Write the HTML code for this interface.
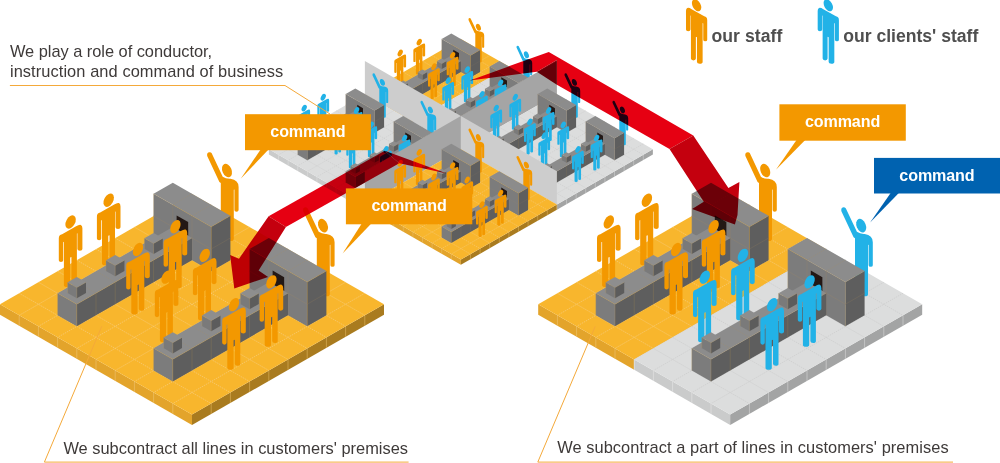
<!DOCTYPE html>
<html><head><meta charset="utf-8"><style>
html,body{margin:0;padding:0;background:#fff;}
body{width:1000px;height:463px;overflow:hidden;position:relative;}
svg{position:absolute;left:0;top:0;}
.cmd{font-family:"Liberation Sans",sans-serif;font-weight:bold;font-size:16.1px;fill:#fff;text-anchor:middle;}
.tx{font-family:"Liberation Sans",sans-serif;font-size:16.4px;fill:#3E3A39;}
.lg{font-family:"Liberation Sans",sans-serif;font-size:17.6px;font-weight:bold;fill:#4F4F4F;}
.t{position:absolute;font-family:"Liberation Sans",sans-serif;color:#3E3A39;white-space:nowrap;}
</style></head><body>
<svg width="1000" height="463" viewBox="0 0 1000 463">
<polygon points="268.9,149.3 364.9,204.45 364.9,209.66 268.9,154.51" fill="#CACBCB"/>
<polygon points="364.9,204.45 460.9,259.6 460.9,264.81 364.9,209.66" fill="#E3A42B"/>
<polygon points="652.9,149.3 556.9,204.45 556.9,209.66 652.9,154.51" fill="#A3A4A4"/>
<polygon points="556.9,204.45 460.9,259.6 460.9,264.81 556.9,209.66" fill="#A97B1F"/>
<line x1="278.5" y1="154.81" x2="278.5" y2="160.02" stroke="#E6E6E6" stroke-width="0.45"/>
<line x1="643.3" y1="154.81" x2="643.3" y2="160.02" stroke="#E6E6E6" stroke-width="0.4"/>
<line x1="288.1" y1="160.33" x2="288.1" y2="165.54" stroke="#E6E6E6" stroke-width="0.45"/>
<line x1="633.7" y1="160.33" x2="633.7" y2="165.54" stroke="#E6E6E6" stroke-width="0.4"/>
<line x1="297.7" y1="165.84" x2="297.7" y2="171.05" stroke="#E6E6E6" stroke-width="0.45"/>
<line x1="624.1" y1="165.84" x2="624.1" y2="171.05" stroke="#E6E6E6" stroke-width="0.4"/>
<line x1="307.3" y1="171.36" x2="307.3" y2="176.57" stroke="#E6E6E6" stroke-width="0.45"/>
<line x1="614.5" y1="171.36" x2="614.5" y2="176.57" stroke="#E6E6E6" stroke-width="0.4"/>
<line x1="316.9" y1="176.88" x2="316.9" y2="182.08" stroke="#E6E6E6" stroke-width="0.45"/>
<line x1="604.9" y1="176.88" x2="604.9" y2="182.08" stroke="#E6E6E6" stroke-width="0.4"/>
<line x1="326.5" y1="182.39" x2="326.5" y2="187.6" stroke="#E6E6E6" stroke-width="0.45"/>
<line x1="595.3" y1="182.39" x2="595.3" y2="187.6" stroke="#E6E6E6" stroke-width="0.4"/>
<line x1="336.1" y1="187.91" x2="336.1" y2="193.11" stroke="#E6E6E6" stroke-width="0.45"/>
<line x1="585.7" y1="187.91" x2="585.7" y2="193.11" stroke="#E6E6E6" stroke-width="0.4"/>
<line x1="345.7" y1="193.42" x2="345.7" y2="198.63" stroke="#E6E6E6" stroke-width="0.45"/>
<line x1="576.1" y1="193.42" x2="576.1" y2="198.63" stroke="#E6E6E6" stroke-width="0.4"/>
<line x1="355.3" y1="198.94" x2="355.3" y2="204.14" stroke="#E6E6E6" stroke-width="0.45"/>
<line x1="566.5" y1="198.94" x2="566.5" y2="204.14" stroke="#E6E6E6" stroke-width="0.4"/>
<line x1="364.9" y1="204.45" x2="364.9" y2="209.66" stroke="#EFC572" stroke-width="0.45"/>
<line x1="556.9" y1="204.45" x2="556.9" y2="209.66" stroke="#EFC572" stroke-width="0.4"/>
<line x1="374.5" y1="209.97" x2="374.5" y2="215.17" stroke="#EFC572" stroke-width="0.45"/>
<line x1="547.3" y1="209.97" x2="547.3" y2="215.17" stroke="#EFC572" stroke-width="0.4"/>
<line x1="384.1" y1="215.48" x2="384.1" y2="220.69" stroke="#EFC572" stroke-width="0.45"/>
<line x1="537.7" y1="215.48" x2="537.7" y2="220.69" stroke="#EFC572" stroke-width="0.4"/>
<line x1="393.7" y1="220.99" x2="393.7" y2="226.2" stroke="#EFC572" stroke-width="0.45"/>
<line x1="528.1" y1="220.99" x2="528.1" y2="226.2" stroke="#EFC572" stroke-width="0.4"/>
<line x1="403.3" y1="226.51" x2="403.3" y2="231.72" stroke="#EFC572" stroke-width="0.45"/>
<line x1="518.5" y1="226.51" x2="518.5" y2="231.72" stroke="#EFC572" stroke-width="0.4"/>
<line x1="412.9" y1="232.02" x2="412.9" y2="237.23" stroke="#EFC572" stroke-width="0.45"/>
<line x1="508.9" y1="232.02" x2="508.9" y2="237.23" stroke="#EFC572" stroke-width="0.4"/>
<line x1="422.5" y1="237.54" x2="422.5" y2="242.75" stroke="#EFC572" stroke-width="0.45"/>
<line x1="499.3" y1="237.54" x2="499.3" y2="242.75" stroke="#EFC572" stroke-width="0.4"/>
<line x1="432.1" y1="243.05" x2="432.1" y2="248.26" stroke="#EFC572" stroke-width="0.45"/>
<line x1="489.7" y1="243.05" x2="489.7" y2="248.26" stroke="#EFC572" stroke-width="0.4"/>
<line x1="441.7" y1="248.57" x2="441.7" y2="253.78" stroke="#EFC572" stroke-width="0.45"/>
<line x1="480.1" y1="248.57" x2="480.1" y2="253.78" stroke="#EFC572" stroke-width="0.4"/>
<line x1="451.3" y1="254.08" x2="451.3" y2="259.29" stroke="#EFC572" stroke-width="0.45"/>
<line x1="470.5" y1="254.08" x2="470.5" y2="259.29" stroke="#EFC572" stroke-width="0.4"/>
<polygon points="364.9,94.15 412.9,121.72 412.9,121.72 364.9,94.15" fill="#E3A42B"/>
<polygon points="412.9,121.72 460.9,149.3 460.9,149.3 412.9,121.72" fill="#CACBCB"/>
<polygon points="556.9,94.15 460.9,149.3 460.9,149.3 556.9,94.15" fill="#A3A4A4"/>
<polygon points="460.9,39 508.9,66.58 412.9,121.72 364.9,94.15" fill="#F8B62D"/>
<polygon points="508.9,66.58 556.9,94.15 460.9,149.3 412.9,121.72" fill="#DCDDDD"/>
<line x1="470.5" y1="44.52" x2="374.5" y2="99.66" stroke="#F6D08C" stroke-width="0.45" stroke-dasharray="1.4 0.9"/>
<line x1="451.3" y1="44.52" x2="499.3" y2="72.09" stroke="#F6D08C" stroke-width="0.45" stroke-dasharray="1.4 0.9"/>
<line x1="499.3" y1="72.09" x2="547.3" y2="99.66" stroke="#C7C8C8" stroke-width="0.45" stroke-dasharray="1.4 0.9"/>
<line x1="480.1" y1="50.03" x2="384.1" y2="105.18" stroke="#F6D08C" stroke-width="0.45" stroke-dasharray="1.4 0.9"/>
<line x1="441.7" y1="50.03" x2="489.7" y2="77.6" stroke="#F6D08C" stroke-width="0.45" stroke-dasharray="1.4 0.9"/>
<line x1="489.7" y1="77.6" x2="537.7" y2="105.18" stroke="#C7C8C8" stroke-width="0.45" stroke-dasharray="1.4 0.9"/>
<line x1="489.7" y1="55.55" x2="393.7" y2="110.69" stroke="#F6D08C" stroke-width="0.45" stroke-dasharray="1.4 0.9"/>
<line x1="432.1" y1="55.55" x2="480.1" y2="83.12" stroke="#F6D08C" stroke-width="0.45" stroke-dasharray="1.4 0.9"/>
<line x1="480.1" y1="83.12" x2="528.1" y2="110.69" stroke="#C7C8C8" stroke-width="0.45" stroke-dasharray="1.4 0.9"/>
<line x1="499.3" y1="61.06" x2="403.3" y2="116.21" stroke="#F6D08C" stroke-width="0.45" stroke-dasharray="1.4 0.9"/>
<line x1="422.5" y1="61.06" x2="470.5" y2="88.63" stroke="#F6D08C" stroke-width="0.45" stroke-dasharray="1.4 0.9"/>
<line x1="470.5" y1="88.63" x2="518.5" y2="116.21" stroke="#C7C8C8" stroke-width="0.45" stroke-dasharray="1.4 0.9"/>
<line x1="508.9" y1="66.58" x2="412.9" y2="121.72" stroke="#C7C8C8" stroke-width="0.45" stroke-dasharray="1.4 0.9"/>
<line x1="412.9" y1="66.58" x2="460.9" y2="94.15" stroke="#F6D08C" stroke-width="0.45" stroke-dasharray="1.4 0.9"/>
<line x1="460.9" y1="94.15" x2="508.9" y2="121.72" stroke="#C7C8C8" stroke-width="0.45" stroke-dasharray="1.4 0.9"/>
<line x1="518.5" y1="72.09" x2="422.5" y2="127.24" stroke="#C7C8C8" stroke-width="0.45" stroke-dasharray="1.4 0.9"/>
<line x1="403.3" y1="72.09" x2="451.3" y2="99.66" stroke="#F6D08C" stroke-width="0.45" stroke-dasharray="1.4 0.9"/>
<line x1="451.3" y1="99.66" x2="499.3" y2="127.24" stroke="#C7C8C8" stroke-width="0.45" stroke-dasharray="1.4 0.9"/>
<line x1="528.1" y1="77.6" x2="432.1" y2="132.75" stroke="#C7C8C8" stroke-width="0.45" stroke-dasharray="1.4 0.9"/>
<line x1="393.7" y1="77.6" x2="441.7" y2="105.18" stroke="#F6D08C" stroke-width="0.45" stroke-dasharray="1.4 0.9"/>
<line x1="441.7" y1="105.18" x2="489.7" y2="132.75" stroke="#C7C8C8" stroke-width="0.45" stroke-dasharray="1.4 0.9"/>
<line x1="537.7" y1="83.12" x2="441.7" y2="138.27" stroke="#C7C8C8" stroke-width="0.45" stroke-dasharray="1.4 0.9"/>
<line x1="384.1" y1="83.12" x2="432.1" y2="110.69" stroke="#F6D08C" stroke-width="0.45" stroke-dasharray="1.4 0.9"/>
<line x1="432.1" y1="110.69" x2="480.1" y2="138.27" stroke="#C7C8C8" stroke-width="0.45" stroke-dasharray="1.4 0.9"/>
<line x1="547.3" y1="88.63" x2="451.3" y2="143.78" stroke="#C7C8C8" stroke-width="0.45" stroke-dasharray="1.4 0.9"/>
<line x1="374.5" y1="88.63" x2="422.5" y2="116.21" stroke="#F6D08C" stroke-width="0.45" stroke-dasharray="1.4 0.9"/>
<line x1="422.5" y1="116.21" x2="470.5" y2="143.78" stroke="#C7C8C8" stroke-width="0.45" stroke-dasharray="1.4 0.9"/>
<line x1="374.5" y1="99.66" x2="374.5" y2="99.66" stroke="#EFC572" stroke-width="0.45"/>
<line x1="547.3" y1="99.66" x2="547.3" y2="99.66" stroke="#E6E6E6" stroke-width="0.36000000000000004"/>
<line x1="384.1" y1="105.18" x2="384.1" y2="105.18" stroke="#EFC572" stroke-width="0.45"/>
<line x1="537.7" y1="105.18" x2="537.7" y2="105.18" stroke="#E6E6E6" stroke-width="0.36000000000000004"/>
<line x1="393.7" y1="110.69" x2="393.7" y2="110.69" stroke="#EFC572" stroke-width="0.45"/>
<line x1="528.1" y1="110.69" x2="528.1" y2="110.69" stroke="#E6E6E6" stroke-width="0.36000000000000004"/>
<line x1="403.3" y1="116.21" x2="403.3" y2="116.21" stroke="#EFC572" stroke-width="0.45"/>
<line x1="518.5" y1="116.21" x2="518.5" y2="116.21" stroke="#E6E6E6" stroke-width="0.36000000000000004"/>
<line x1="412.9" y1="121.72" x2="412.9" y2="121.72" stroke="#E6E6E6" stroke-width="0.45"/>
<line x1="508.9" y1="121.72" x2="508.9" y2="121.72" stroke="#E6E6E6" stroke-width="0.36000000000000004"/>
<line x1="422.5" y1="127.24" x2="422.5" y2="127.24" stroke="#E6E6E6" stroke-width="0.45"/>
<line x1="499.3" y1="127.24" x2="499.3" y2="127.24" stroke="#E6E6E6" stroke-width="0.36000000000000004"/>
<line x1="432.1" y1="132.75" x2="432.1" y2="132.75" stroke="#E6E6E6" stroke-width="0.45"/>
<line x1="489.7" y1="132.75" x2="489.7" y2="132.75" stroke="#E6E6E6" stroke-width="0.36000000000000004"/>
<line x1="441.7" y1="138.27" x2="441.7" y2="138.27" stroke="#E6E6E6" stroke-width="0.45"/>
<line x1="480.1" y1="138.27" x2="480.1" y2="138.27" stroke="#E6E6E6" stroke-width="0.36000000000000004"/>
<line x1="451.3" y1="143.78" x2="451.3" y2="143.78" stroke="#E6E6E6" stroke-width="0.45"/>
<line x1="470.5" y1="143.78" x2="470.5" y2="143.78" stroke="#E6E6E6" stroke-width="0.36000000000000004"/>
<g transform="translate(478.4 27.25) scale(0.5 0.5)" fill="#F39800"><ellipse rx="4.6" ry="7.1" transform="rotate(-22)"/><path d="M-19.8-14.5Q-20.5-18.5-17.2-18.3Q-15.8-18.1-15.3-17.2L-4.3 6.2Q-1 8.6 3.5 8.3Q11.6 9.5 11.6 16.5L11.6 39.5Q11.6 41.2 9.5 41.2Q7.4 41.2 7.4 39.5L7.4 19L6.8 19.3L6.8 68.5Q6.8 70.5 3.8 70.5Q0.8 70.5 0.8 68.5L0.8 44.5L-0.4 45L-0.4 72.5Q-0.4 74.5-3.3 74.5Q-6.2 74.5-6.2 72.5L-6.2 12.5L-7.6 11.6Z"/></g>
<g transform="translate(526.4 54.83) scale(0.5 0.5)" fill="#22B2E7"><ellipse rx="4.6" ry="7.1" transform="rotate(-22)"/><path d="M-19.8-14.5Q-20.5-18.5-17.2-18.3Q-15.8-18.1-15.3-17.2L-4.3 6.2Q-1 8.6 3.5 8.3Q11.6 9.5 11.6 16.5L11.6 39.5Q11.6 41.2 9.5 41.2Q7.4 41.2 7.4 39.5L7.4 19L6.8 19.3L6.8 68.5Q6.8 70.5 3.8 70.5Q0.8 70.5 0.8 68.5L0.8 44.5L-0.4 45L-0.4 72.5Q-0.4 74.5-3.3 74.5Q-6.2 74.5-6.2 72.5L-6.2 12.5L-7.6 11.6Z"/></g>
<polygon points="441.7,38.89 470.5,55.43 470.5,77.6 441.7,61.06" fill="#7C7C7C"/>
<polygon points="480.1,49.92 470.5,55.43 470.5,77.6 480.1,72.09" fill="#5E5E5E"/>
<polygon points="451.3,33.38 480.1,49.92 470.5,55.43 441.7,38.89" fill="#8C8C8C"/>
<polyline points="441.7,61.06 441.7,38.89 470.5,55.43 480.1,49.92" fill="none" stroke="#B89A64" stroke-width="0.2" stroke-opacity="0.8"/>
<line x1="470.5" y1="55.43" x2="470.5" y2="77.6" stroke="#B89A64" stroke-width="0.2" stroke-opacity="0.8"/>
<line x1="460.9" y1="38.89" x2="451.3" y2="44.41" stroke="#9A8C74" stroke-width="0.25" stroke-dasharray="1.4 0.9"/>
<line x1="470.5" y1="44.41" x2="460.9" y2="49.92" stroke="#9A8C74" stroke-width="0.25" stroke-dasharray="1.4 0.9"/>
<line x1="451.3" y1="44.41" x2="451.3" y2="66.58" stroke="#8E8270" stroke-width="0.25"/>
<line x1="460.9" y1="49.92" x2="460.9" y2="72.09" stroke="#8E8270" stroke-width="0.25"/>
<line x1="441.7" y1="49.98" x2="470.5" y2="66.52" stroke="#8E8270" stroke-width="0.25"/>
<line x1="480.1" y1="61.01" x2="470.5" y2="66.52" stroke="#7A6E5C" stroke-width="0.25"/>
<polygon points="453.22,49.72 458.98,53.03 458.98,59.9 453.22,56.59" fill="#231815"/>
<polygon points="489.7,66.46 518.5,83.01 518.5,105.18 489.7,88.63" fill="#7C7C7C"/>
<polygon points="528.1,77.49 518.5,83.01 518.5,105.18 528.1,99.66" fill="#5E5E5E"/>
<polygon points="499.3,60.95 528.1,77.49 518.5,83.01 489.7,66.46" fill="#8C8C8C"/>
<polyline points="489.7,88.63 489.7,66.46 518.5,83.01 528.1,77.49" fill="none" stroke="#B89A64" stroke-width="0.2" stroke-opacity="0.8"/>
<line x1="518.5" y1="83.01" x2="518.5" y2="105.18" stroke="#B89A64" stroke-width="0.2" stroke-opacity="0.8"/>
<line x1="508.9" y1="66.46" x2="499.3" y2="71.98" stroke="#9A8C74" stroke-width="0.25" stroke-dasharray="1.4 0.9"/>
<line x1="518.5" y1="71.98" x2="508.9" y2="77.49" stroke="#9A8C74" stroke-width="0.25" stroke-dasharray="1.4 0.9"/>
<line x1="499.3" y1="71.98" x2="499.3" y2="94.15" stroke="#8E8270" stroke-width="0.25"/>
<line x1="508.9" y1="77.49" x2="508.9" y2="99.66" stroke="#8E8270" stroke-width="0.25"/>
<line x1="489.7" y1="77.55" x2="518.5" y2="94.09" stroke="#8E8270" stroke-width="0.25"/>
<line x1="528.1" y1="88.58" x2="518.5" y2="94.09" stroke="#7A6E5C" stroke-width="0.25"/>
<polygon points="501.22,77.3 506.98,80.6 506.98,87.48 501.22,84.17" fill="#231815"/>
<g transform="translate(419.25 42.1) scale(0.5 0.5)" fill="#F39800"><ellipse rx="4.5" ry="7.2" transform="rotate(28)"/><path d="M-11.8 16.5Q-11.8 12.8-8.5 12.3L5.5 4.3Q8.5 2.3 10.3 2.9Q11.8 3.6 11.8 6.3L11.8 27Q11.8 28.8 9.3 28.8Q6.8 28.8 6.8 27L6.8 11.3L6.3 11.6L6.3 59.2Q6.3 61.2 3.5 61.2Q0.8 61.2 0.8 59.2L0.8 35L-0.4 35.6L-0.4 63Q-0.4 65-3.5 65Q-6.7 65-6.7 63L-6.7 19.8L-7.4 20.2L-7.4 38.2Q-7.4 40-9.6 40Q-11.8 40-11.8 38.2Z"/></g>
<g transform="translate(400.2 53) scale(0.5 0.5)" fill="#F39800"><ellipse rx="4.5" ry="7.2" transform="rotate(28)"/><path d="M-11.8 16.5Q-11.8 12.8-8.5 12.3L5.5 4.3Q8.5 2.3 10.3 2.9Q11.8 3.6 11.8 6.3L11.8 27Q11.8 28.8 9.3 28.8Q6.8 28.8 6.8 27L6.8 11.3L6.3 11.6L6.3 59.2Q6.3 61.2 3.5 61.2Q0.8 61.2 0.8 59.2L0.8 35L-0.4 35.6L-0.4 63Q-0.4 65-3.5 65Q-6.7 65-6.7 63L-6.7 19.8L-7.4 20.2L-7.4 38.2Q-7.4 40-9.6 40Q-11.8 40-11.8 38.2Z"/></g>
<polygon points="393.7,88.58 403.3,94.09 403.3,105.18 393.7,99.66" fill="#7C7C7C"/>
<polygon points="460.9,61.01 403.3,94.09 403.3,105.18 460.9,72.09" fill="#5E5E5E"/>
<polygon points="451.3,55.49 460.9,61.01 403.3,94.09 393.7,88.58" fill="#8C8C8C"/>
<polyline points="393.7,99.66 393.7,88.58 403.3,94.09 460.9,61.01" fill="none" stroke="#B89A64" stroke-width="0.2" stroke-opacity="0.8"/>
<line x1="403.3" y1="94.09" x2="403.3" y2="105.18" stroke="#B89A64" stroke-width="0.2" stroke-opacity="0.8"/>
<line x1="451.3" y1="66.52" x2="451.3" y2="77.6" stroke="#857657" stroke-width="0.25"/>
<line x1="441.7" y1="61.01" x2="451.3" y2="66.52" stroke="#9A8C74" stroke-width="0.25" stroke-dasharray="1.4 0.9"/>
<line x1="441.7" y1="72.03" x2="441.7" y2="83.12" stroke="#857657" stroke-width="0.25"/>
<line x1="432.1" y1="66.52" x2="441.7" y2="72.03" stroke="#9A8C74" stroke-width="0.25" stroke-dasharray="1.4 0.9"/>
<line x1="432.1" y1="77.55" x2="432.1" y2="88.63" stroke="#857657" stroke-width="0.25"/>
<line x1="422.5" y1="72.03" x2="432.1" y2="77.55" stroke="#9A8C74" stroke-width="0.25" stroke-dasharray="1.4 0.9"/>
<line x1="422.5" y1="83.06" x2="422.5" y2="94.15" stroke="#857657" stroke-width="0.25"/>
<line x1="412.9" y1="77.55" x2="422.5" y2="83.06" stroke="#9A8C74" stroke-width="0.25" stroke-dasharray="1.4 0.9"/>
<line x1="412.9" y1="88.58" x2="412.9" y2="99.66" stroke="#857657" stroke-width="0.25"/>
<line x1="403.3" y1="83.06" x2="412.9" y2="88.58" stroke="#9A8C74" stroke-width="0.25" stroke-dasharray="1.4 0.9"/>
<polygon points="398.69,83.15 403.3,85.8 403.3,91.12 398.69,88.47" fill="#7A7A7A"/>
<polygon points="407.91,83.15 403.3,85.8 403.3,91.12 407.91,88.47" fill="#5C5C5C"/>
<polygon points="403.3,80.5 407.91,83.15 403.3,85.8 398.69,83.15" fill="#8E8E8E"/>
<polyline points="398.69,88.47 398.69,83.15 403.3,85.8 407.91,83.15" fill="none" stroke="#B89A64" stroke-width="0.2" stroke-opacity="0.8"/>
<line x1="403.3" y1="85.8" x2="403.3" y2="91.12" stroke="#B89A64" stroke-width="0.2" stroke-opacity="0.8"/>
<polygon points="417.89,72.12 422.5,74.77 422.5,80.09 417.89,77.44" fill="#7A7A7A"/>
<polygon points="427.11,72.12 422.5,74.77 422.5,80.09 427.11,77.44" fill="#5C5C5C"/>
<polygon points="422.5,69.47 427.11,72.12 422.5,74.77 417.89,72.12" fill="#8E8E8E"/>
<polyline points="417.89,77.44 417.89,72.12 422.5,74.77 427.11,72.12" fill="none" stroke="#B89A64" stroke-width="0.2" stroke-opacity="0.8"/>
<line x1="422.5" y1="74.77" x2="422.5" y2="80.09" stroke="#B89A64" stroke-width="0.2" stroke-opacity="0.8"/>
<polygon points="437.09,61.09 441.7,63.74 441.7,69.06 437.09,66.41" fill="#7A7A7A"/>
<polygon points="446.31,61.09 441.7,63.74 441.7,69.06 446.31,66.41" fill="#5C5C5C"/>
<polygon points="441.7,58.44 446.31,61.09 441.7,63.74 437.09,61.09" fill="#8E8E8E"/>
<polyline points="437.09,66.41 437.09,61.09 441.7,63.74 446.31,61.09" fill="none" stroke="#B89A64" stroke-width="0.2" stroke-opacity="0.8"/>
<line x1="441.7" y1="63.74" x2="441.7" y2="69.06" stroke="#B89A64" stroke-width="0.2" stroke-opacity="0.8"/>
<g transform="translate(452.6 55.35) scale(0.5 0.5)" fill="#F39800"><ellipse rx="4.5" ry="7.2" transform="rotate(28)"/><path d="M-11.8 16.5Q-11.8 12.8-8.5 12.3L5.5 4.3Q8.5 2.3 10.3 2.9Q11.8 3.6 11.8 6.3L11.8 27Q11.8 28.8 9.3 28.8Q6.8 28.8 6.8 27L6.8 11.3L6.3 11.6L6.3 59.2Q6.3 61.2 3.5 61.2Q0.8 61.2 0.8 59.2L0.8 35L-0.4 35.6L-0.4 63Q-0.4 65-3.5 65Q-6.7 65-6.7 63L-6.7 19.8L-7.4 20.2L-7.4 38.2Q-7.4 40-9.6 40Q-11.8 40-11.8 38.2Z"/></g>
<g transform="translate(433.9 66.75) scale(0.5 0.5)" fill="#F39800"><ellipse rx="4.5" ry="7.2" transform="rotate(28)"/><path d="M-11.8 16.5Q-11.8 12.8-8.5 12.3L5.5 4.3Q8.5 2.3 10.3 2.9Q11.8 3.6 11.8 6.3L11.8 27Q11.8 28.8 9.3 28.8Q6.8 28.8 6.8 27L6.8 11.3L6.3 11.6L6.3 59.2Q6.3 61.2 3.5 61.2Q0.8 61.2 0.8 59.2L0.8 35L-0.4 35.6L-0.4 63Q-0.4 65-3.5 65Q-6.7 65-6.7 63L-6.7 19.8L-7.4 20.2L-7.4 38.2Q-7.4 40-9.6 40Q-11.8 40-11.8 38.2Z"/></g>
<g transform="translate(467.25 69.67) scale(0.5 0.5)" fill="#22B2E7"><ellipse rx="4.5" ry="7.2" transform="rotate(28)"/><path d="M-11.8 16.5Q-11.8 12.8-8.5 12.3L5.5 4.3Q8.5 2.3 10.3 2.9Q11.8 3.6 11.8 6.3L11.8 27Q11.8 28.8 9.3 28.8Q6.8 28.8 6.8 27L6.8 11.3L6.3 11.6L6.3 59.2Q6.3 61.2 3.5 61.2Q0.8 61.2 0.8 59.2L0.8 35L-0.4 35.6L-0.4 63Q-0.4 65-3.5 65Q-6.7 65-6.7 63L-6.7 19.8L-7.4 20.2L-7.4 38.2Q-7.4 40-9.6 40Q-11.8 40-11.8 38.2Z"/></g>
<g transform="translate(448.2 80.58) scale(0.5 0.5)" fill="#22B2E7"><ellipse rx="4.5" ry="7.2" transform="rotate(28)"/><path d="M-11.8 16.5Q-11.8 12.8-8.5 12.3L5.5 4.3Q8.5 2.3 10.3 2.9Q11.8 3.6 11.8 6.3L11.8 27Q11.8 28.8 9.3 28.8Q6.8 28.8 6.8 27L6.8 11.3L6.3 11.6L6.3 59.2Q6.3 61.2 3.5 61.2Q0.8 61.2 0.8 59.2L0.8 35L-0.4 35.6L-0.4 63Q-0.4 65-3.5 65Q-6.7 65-6.7 63L-6.7 19.8L-7.4 20.2L-7.4 38.2Q-7.4 40-9.6 40Q-11.8 40-11.8 38.2Z"/></g>
<polygon points="441.7,116.16 451.3,121.67 451.3,132.75 441.7,127.24" fill="#7C7C7C"/>
<polygon points="508.9,88.58 451.3,121.67 451.3,132.75 508.9,99.66" fill="#5E5E5E"/>
<polygon points="499.3,83.06 508.9,88.58 451.3,121.67 441.7,116.16" fill="#8C8C8C"/>
<polyline points="441.7,127.24 441.7,116.16 451.3,121.67 508.9,88.58" fill="none" stroke="#B89A64" stroke-width="0.2" stroke-opacity="0.8"/>
<line x1="451.3" y1="121.67" x2="451.3" y2="132.75" stroke="#B89A64" stroke-width="0.2" stroke-opacity="0.8"/>
<line x1="499.3" y1="94.09" x2="499.3" y2="105.18" stroke="#857657" stroke-width="0.25"/>
<line x1="489.7" y1="88.58" x2="499.3" y2="94.09" stroke="#9A8C74" stroke-width="0.25" stroke-dasharray="1.4 0.9"/>
<line x1="489.7" y1="99.61" x2="489.7" y2="110.69" stroke="#857657" stroke-width="0.25"/>
<line x1="480.1" y1="94.09" x2="489.7" y2="99.61" stroke="#9A8C74" stroke-width="0.25" stroke-dasharray="1.4 0.9"/>
<line x1="480.1" y1="105.12" x2="480.1" y2="116.21" stroke="#857657" stroke-width="0.25"/>
<line x1="470.5" y1="99.61" x2="480.1" y2="105.12" stroke="#9A8C74" stroke-width="0.25" stroke-dasharray="1.4 0.9"/>
<line x1="470.5" y1="110.64" x2="470.5" y2="121.72" stroke="#857657" stroke-width="0.25"/>
<line x1="460.9" y1="105.12" x2="470.5" y2="110.64" stroke="#9A8C74" stroke-width="0.25" stroke-dasharray="1.4 0.9"/>
<line x1="460.9" y1="116.16" x2="460.9" y2="127.24" stroke="#857657" stroke-width="0.25"/>
<line x1="451.3" y1="110.64" x2="460.9" y2="116.16" stroke="#9A8C74" stroke-width="0.25" stroke-dasharray="1.4 0.9"/>
<polygon points="446.69,110.72 451.3,113.37 451.3,118.69 446.69,116.04" fill="#7A7A7A"/>
<polygon points="455.91,110.72 451.3,113.37 451.3,118.69 455.91,116.04" fill="#5C5C5C"/>
<polygon points="451.3,108.08 455.91,110.72 451.3,113.37 446.69,110.72" fill="#8E8E8E"/>
<polyline points="446.69,116.04 446.69,110.72 451.3,113.37 455.91,110.72" fill="none" stroke="#B89A64" stroke-width="0.2" stroke-opacity="0.8"/>
<line x1="451.3" y1="113.37" x2="451.3" y2="118.69" stroke="#B89A64" stroke-width="0.2" stroke-opacity="0.8"/>
<polygon points="465.89,99.69 470.5,102.34 470.5,107.66 465.89,105.01" fill="#7A7A7A"/>
<polygon points="475.11,99.69 470.5,102.34 470.5,107.66 475.11,105.01" fill="#5C5C5C"/>
<polygon points="470.5,97.05 475.11,99.69 470.5,102.34 465.89,99.69" fill="#8E8E8E"/>
<polyline points="465.89,105.01 465.89,99.69 470.5,102.34 475.11,99.69" fill="none" stroke="#B89A64" stroke-width="0.2" stroke-opacity="0.8"/>
<line x1="470.5" y1="102.34" x2="470.5" y2="107.66" stroke="#B89A64" stroke-width="0.2" stroke-opacity="0.8"/>
<polygon points="485.09,88.66 489.7,91.31 489.7,96.63 485.09,93.98" fill="#7A7A7A"/>
<polygon points="494.31,88.66 489.7,91.31 489.7,96.63 494.31,93.98" fill="#5C5C5C"/>
<polygon points="489.7,86.02 494.31,88.66 489.7,91.31 485.09,88.66" fill="#8E8E8E"/>
<polyline points="485.09,93.98 485.09,88.66 489.7,91.31 494.31,88.66" fill="none" stroke="#B89A64" stroke-width="0.2" stroke-opacity="0.8"/>
<line x1="489.7" y1="91.31" x2="489.7" y2="96.63" stroke="#B89A64" stroke-width="0.2" stroke-opacity="0.8"/>
<g transform="translate(500.6 82.92) scale(0.5 0.5)" fill="#22B2E7"><ellipse rx="4.5" ry="7.2" transform="rotate(28)"/><path d="M-11.8 16.5Q-11.8 12.8-8.5 12.3L5.5 4.3Q8.5 2.3 10.3 2.9Q11.8 3.6 11.8 6.3L11.8 27Q11.8 28.8 9.3 28.8Q6.8 28.8 6.8 27L6.8 11.3L6.3 11.6L6.3 59.2Q6.3 61.2 3.5 61.2Q0.8 61.2 0.8 59.2L0.8 35L-0.4 35.6L-0.4 63Q-0.4 65-3.5 65Q-6.7 65-6.7 63L-6.7 19.8L-7.4 20.2L-7.4 38.2Q-7.4 40-9.6 40Q-11.8 40-11.8 38.2Z"/></g>
<g transform="translate(481.9 94.33) scale(0.5 0.5)" fill="#22B2E7"><ellipse rx="4.5" ry="7.2" transform="rotate(28)"/><path d="M-11.8 16.5Q-11.8 12.8-8.5 12.3L5.5 4.3Q8.5 2.3 10.3 2.9Q11.8 3.6 11.8 6.3L11.8 27Q11.8 28.8 9.3 28.8Q6.8 28.8 6.8 27L6.8 11.3L6.3 11.6L6.3 59.2Q6.3 61.2 3.5 61.2Q0.8 61.2 0.8 59.2L0.8 35L-0.4 35.6L-0.4 63Q-0.4 65-3.5 65Q-6.7 65-6.7 63L-6.7 19.8L-7.4 20.2L-7.4 38.2Q-7.4 40-9.6 40Q-11.8 40-11.8 38.2Z"/></g>
<polygon points="556.9,60.9 460.9,116.05 460.9,149.3 556.9,94.15" fill="#A5A5A5"/>
<polygon points="364.9,60.9 460.9,116.05 460.9,149.3 364.9,94.15" fill="#CDCDCD"/>
<polygon points="268.9,149.3 364.9,204.45 364.9,204.45 268.9,149.3" fill="#CACBCB"/>
<polygon points="460.9,149.3 364.9,204.45 364.9,204.45 460.9,149.3" fill="#A3A4A4"/>
<polygon points="364.9,94.15 460.9,149.3 364.9,204.45 268.9,149.3" fill="#DCDDDD"/>
<line x1="374.5" y1="99.67" x2="278.5" y2="154.81" stroke="#C7C8C8" stroke-width="0.45" stroke-dasharray="1.4 0.9"/>
<line x1="355.3" y1="99.67" x2="451.3" y2="154.81" stroke="#C7C8C8" stroke-width="0.45" stroke-dasharray="1.4 0.9"/>
<line x1="384.1" y1="105.18" x2="288.1" y2="160.33" stroke="#C7C8C8" stroke-width="0.45" stroke-dasharray="1.4 0.9"/>
<line x1="345.7" y1="105.18" x2="441.7" y2="160.33" stroke="#C7C8C8" stroke-width="0.45" stroke-dasharray="1.4 0.9"/>
<line x1="393.7" y1="110.7" x2="297.7" y2="165.84" stroke="#C7C8C8" stroke-width="0.45" stroke-dasharray="1.4 0.9"/>
<line x1="336.1" y1="110.7" x2="432.1" y2="165.84" stroke="#C7C8C8" stroke-width="0.45" stroke-dasharray="1.4 0.9"/>
<line x1="403.3" y1="116.21" x2="307.3" y2="171.36" stroke="#C7C8C8" stroke-width="0.45" stroke-dasharray="1.4 0.9"/>
<line x1="326.5" y1="116.21" x2="422.5" y2="171.36" stroke="#C7C8C8" stroke-width="0.45" stroke-dasharray="1.4 0.9"/>
<line x1="412.9" y1="121.73" x2="316.9" y2="176.88" stroke="#C7C8C8" stroke-width="0.45" stroke-dasharray="1.4 0.9"/>
<line x1="316.9" y1="121.73" x2="412.9" y2="176.88" stroke="#C7C8C8" stroke-width="0.45" stroke-dasharray="1.4 0.9"/>
<line x1="422.5" y1="127.24" x2="326.5" y2="182.39" stroke="#C7C8C8" stroke-width="0.45" stroke-dasharray="1.4 0.9"/>
<line x1="307.3" y1="127.24" x2="403.3" y2="182.39" stroke="#C7C8C8" stroke-width="0.45" stroke-dasharray="1.4 0.9"/>
<line x1="432.1" y1="132.75" x2="336.1" y2="187.91" stroke="#C7C8C8" stroke-width="0.45" stroke-dasharray="1.4 0.9"/>
<line x1="297.7" y1="132.75" x2="393.7" y2="187.91" stroke="#C7C8C8" stroke-width="0.45" stroke-dasharray="1.4 0.9"/>
<line x1="441.7" y1="138.27" x2="345.7" y2="193.42" stroke="#C7C8C8" stroke-width="0.45" stroke-dasharray="1.4 0.9"/>
<line x1="288.1" y1="138.27" x2="384.1" y2="193.42" stroke="#C7C8C8" stroke-width="0.45" stroke-dasharray="1.4 0.9"/>
<line x1="451.3" y1="143.78" x2="355.3" y2="198.94" stroke="#C7C8C8" stroke-width="0.45" stroke-dasharray="1.4 0.9"/>
<line x1="278.5" y1="143.78" x2="374.5" y2="198.94" stroke="#C7C8C8" stroke-width="0.45" stroke-dasharray="1.4 0.9"/>
<line x1="278.5" y1="154.81" x2="278.5" y2="154.81" stroke="#E6E6E6" stroke-width="0.45"/>
<line x1="451.3" y1="154.81" x2="451.3" y2="154.81" stroke="#E6E6E6" stroke-width="0.36000000000000004"/>
<line x1="288.1" y1="160.33" x2="288.1" y2="160.33" stroke="#E6E6E6" stroke-width="0.45"/>
<line x1="441.7" y1="160.33" x2="441.7" y2="160.33" stroke="#E6E6E6" stroke-width="0.36000000000000004"/>
<line x1="297.7" y1="165.84" x2="297.7" y2="165.84" stroke="#E6E6E6" stroke-width="0.45"/>
<line x1="432.1" y1="165.84" x2="432.1" y2="165.84" stroke="#E6E6E6" stroke-width="0.36000000000000004"/>
<line x1="307.3" y1="171.36" x2="307.3" y2="171.36" stroke="#E6E6E6" stroke-width="0.45"/>
<line x1="422.5" y1="171.36" x2="422.5" y2="171.36" stroke="#E6E6E6" stroke-width="0.36000000000000004"/>
<line x1="316.9" y1="176.88" x2="316.9" y2="176.88" stroke="#E6E6E6" stroke-width="0.45"/>
<line x1="412.9" y1="176.88" x2="412.9" y2="176.88" stroke="#E6E6E6" stroke-width="0.36000000000000004"/>
<line x1="326.5" y1="182.39" x2="326.5" y2="182.39" stroke="#E6E6E6" stroke-width="0.45"/>
<line x1="403.3" y1="182.39" x2="403.3" y2="182.39" stroke="#E6E6E6" stroke-width="0.36000000000000004"/>
<line x1="336.1" y1="187.91" x2="336.1" y2="187.91" stroke="#E6E6E6" stroke-width="0.45"/>
<line x1="393.7" y1="187.91" x2="393.7" y2="187.91" stroke="#E6E6E6" stroke-width="0.36000000000000004"/>
<line x1="345.7" y1="193.42" x2="345.7" y2="193.42" stroke="#E6E6E6" stroke-width="0.45"/>
<line x1="384.1" y1="193.42" x2="384.1" y2="193.42" stroke="#E6E6E6" stroke-width="0.36000000000000004"/>
<line x1="355.3" y1="198.94" x2="355.3" y2="198.94" stroke="#E6E6E6" stroke-width="0.45"/>
<line x1="374.5" y1="198.94" x2="374.5" y2="198.94" stroke="#E6E6E6" stroke-width="0.36000000000000004"/>
<g transform="translate(382.4 82.4) scale(0.5 0.5)" fill="#22B2E7"><ellipse rx="4.6" ry="7.1" transform="rotate(-22)"/><path d="M-19.8-14.5Q-20.5-18.5-17.2-18.3Q-15.8-18.1-15.3-17.2L-4.3 6.2Q-1 8.6 3.5 8.3Q11.6 9.5 11.6 16.5L11.6 39.5Q11.6 41.2 9.5 41.2Q7.4 41.2 7.4 39.5L7.4 19L6.8 19.3L6.8 68.5Q6.8 70.5 3.8 70.5Q0.8 70.5 0.8 68.5L0.8 44.5L-0.4 45L-0.4 72.5Q-0.4 74.5-3.3 74.5Q-6.2 74.5-6.2 72.5L-6.2 12.5L-7.6 11.6Z"/></g>
<g transform="translate(430.4 109.98) scale(0.5 0.5)" fill="#22B2E7"><ellipse rx="4.6" ry="7.1" transform="rotate(-22)"/><path d="M-19.8-14.5Q-20.5-18.5-17.2-18.3Q-15.8-18.1-15.3-17.2L-4.3 6.2Q-1 8.6 3.5 8.3Q11.6 9.5 11.6 16.5L11.6 39.5Q11.6 41.2 9.5 41.2Q7.4 41.2 7.4 39.5L7.4 19L6.8 19.3L6.8 68.5Q6.8 70.5 3.8 70.5Q0.8 70.5 0.8 68.5L0.8 44.5L-0.4 45L-0.4 72.5Q-0.4 74.5-3.3 74.5Q-6.2 74.5-6.2 72.5L-6.2 12.5L-7.6 11.6Z"/></g>
<polygon points="345.7,94.04 374.5,110.58 374.5,132.75 345.7,116.21" fill="#7C7C7C"/>
<polygon points="384.1,105.07 374.5,110.58 374.5,132.75 384.1,127.24" fill="#5E5E5E"/>
<polygon points="355.3,88.53 384.1,105.07 374.5,110.58 345.7,94.04" fill="#8C8C8C"/>
<polyline points="345.7,116.21 345.7,94.04 374.5,110.58 384.1,105.07" fill="none" stroke="#B89A64" stroke-width="0.2" stroke-opacity="0.8"/>
<line x1="374.5" y1="110.58" x2="374.5" y2="132.75" stroke="#B89A64" stroke-width="0.2" stroke-opacity="0.8"/>
<line x1="364.9" y1="94.04" x2="355.3" y2="99.56" stroke="#9A8C74" stroke-width="0.25" stroke-dasharray="1.4 0.9"/>
<line x1="374.5" y1="99.56" x2="364.9" y2="105.07" stroke="#9A8C74" stroke-width="0.25" stroke-dasharray="1.4 0.9"/>
<line x1="355.3" y1="99.56" x2="355.3" y2="121.73" stroke="#8E8270" stroke-width="0.25"/>
<line x1="364.9" y1="105.07" x2="364.9" y2="127.24" stroke="#8E8270" stroke-width="0.25"/>
<line x1="345.7" y1="105.12" x2="374.5" y2="121.67" stroke="#8E8270" stroke-width="0.25"/>
<line x1="384.1" y1="116.16" x2="374.5" y2="121.67" stroke="#7A6E5C" stroke-width="0.25"/>
<polygon points="357.22,104.87 362.98,108.18 362.98,115.05 357.22,111.74" fill="#231815"/>
<polygon points="393.7,121.61 422.5,138.16 422.5,160.33 393.7,143.78" fill="#7C7C7C"/>
<polygon points="432.1,132.64 422.5,138.16 422.5,160.33 432.1,154.81" fill="#5E5E5E"/>
<polygon points="403.3,116.1 432.1,132.64 422.5,138.16 393.7,121.61" fill="#8C8C8C"/>
<polyline points="393.7,143.78 393.7,121.61 422.5,138.16 432.1,132.64" fill="none" stroke="#B89A64" stroke-width="0.2" stroke-opacity="0.8"/>
<line x1="422.5" y1="138.16" x2="422.5" y2="160.33" stroke="#B89A64" stroke-width="0.2" stroke-opacity="0.8"/>
<line x1="412.9" y1="121.61" x2="403.3" y2="127.13" stroke="#9A8C74" stroke-width="0.25" stroke-dasharray="1.4 0.9"/>
<line x1="422.5" y1="127.13" x2="412.9" y2="132.64" stroke="#9A8C74" stroke-width="0.25" stroke-dasharray="1.4 0.9"/>
<line x1="403.3" y1="127.13" x2="403.3" y2="149.3" stroke="#8E8270" stroke-width="0.25"/>
<line x1="412.9" y1="132.64" x2="412.9" y2="154.81" stroke="#8E8270" stroke-width="0.25"/>
<line x1="393.7" y1="132.7" x2="422.5" y2="149.24" stroke="#8E8270" stroke-width="0.25"/>
<line x1="432.1" y1="143.73" x2="422.5" y2="149.24" stroke="#7A6E5C" stroke-width="0.25"/>
<polygon points="405.22,132.45 410.98,135.75 410.98,142.63 405.22,139.32" fill="#231815"/>
<g transform="translate(323.25 97.25) scale(0.5 0.5)" fill="#22B2E7"><ellipse rx="4.5" ry="7.2" transform="rotate(28)"/><path d="M-11.8 16.5Q-11.8 12.8-8.5 12.3L5.5 4.3Q8.5 2.3 10.3 2.9Q11.8 3.6 11.8 6.3L11.8 27Q11.8 28.8 9.3 28.8Q6.8 28.8 6.8 27L6.8 11.3L6.3 11.6L6.3 59.2Q6.3 61.2 3.5 61.2Q0.8 61.2 0.8 59.2L0.8 35L-0.4 35.6L-0.4 63Q-0.4 65-3.5 65Q-6.7 65-6.7 63L-6.7 19.8L-7.4 20.2L-7.4 38.2Q-7.4 40-9.6 40Q-11.8 40-11.8 38.2Z"/></g>
<g transform="translate(304.2 108.15) scale(0.5 0.5)" fill="#22B2E7"><ellipse rx="4.5" ry="7.2" transform="rotate(28)"/><path d="M-11.8 16.5Q-11.8 12.8-8.5 12.3L5.5 4.3Q8.5 2.3 10.3 2.9Q11.8 3.6 11.8 6.3L11.8 27Q11.8 28.8 9.3 28.8Q6.8 28.8 6.8 27L6.8 11.3L6.3 11.6L6.3 59.2Q6.3 61.2 3.5 61.2Q0.8 61.2 0.8 59.2L0.8 35L-0.4 35.6L-0.4 63Q-0.4 65-3.5 65Q-6.7 65-6.7 63L-6.7 19.8L-7.4 20.2L-7.4 38.2Q-7.4 40-9.6 40Q-11.8 40-11.8 38.2Z"/></g>
<polygon points="297.7,143.73 307.3,149.24 307.3,160.33 297.7,154.81" fill="#7C7C7C"/>
<polygon points="364.9,116.16 307.3,149.24 307.3,160.33 364.9,127.24" fill="#5E5E5E"/>
<polygon points="355.3,110.64 364.9,116.16 307.3,149.24 297.7,143.73" fill="#8C8C8C"/>
<polyline points="297.7,154.81 297.7,143.73 307.3,149.24 364.9,116.16" fill="none" stroke="#B89A64" stroke-width="0.2" stroke-opacity="0.8"/>
<line x1="307.3" y1="149.24" x2="307.3" y2="160.33" stroke="#B89A64" stroke-width="0.2" stroke-opacity="0.8"/>
<line x1="355.3" y1="121.67" x2="355.3" y2="132.75" stroke="#857657" stroke-width="0.25"/>
<line x1="345.7" y1="116.16" x2="355.3" y2="121.67" stroke="#9A8C74" stroke-width="0.25" stroke-dasharray="1.4 0.9"/>
<line x1="345.7" y1="127.19" x2="345.7" y2="138.27" stroke="#857657" stroke-width="0.25"/>
<line x1="336.1" y1="121.67" x2="345.7" y2="127.19" stroke="#9A8C74" stroke-width="0.25" stroke-dasharray="1.4 0.9"/>
<line x1="336.1" y1="132.7" x2="336.1" y2="143.78" stroke="#857657" stroke-width="0.25"/>
<line x1="326.5" y1="127.19" x2="336.1" y2="132.7" stroke="#9A8C74" stroke-width="0.25" stroke-dasharray="1.4 0.9"/>
<line x1="326.5" y1="138.22" x2="326.5" y2="149.3" stroke="#857657" stroke-width="0.25"/>
<line x1="316.9" y1="132.7" x2="326.5" y2="138.22" stroke="#9A8C74" stroke-width="0.25" stroke-dasharray="1.4 0.9"/>
<line x1="316.9" y1="143.73" x2="316.9" y2="154.81" stroke="#857657" stroke-width="0.25"/>
<line x1="307.3" y1="138.22" x2="316.9" y2="143.73" stroke="#9A8C74" stroke-width="0.25" stroke-dasharray="1.4 0.9"/>
<polygon points="302.69,138.3 307.3,140.95 307.3,146.27 302.69,143.62" fill="#7A7A7A"/>
<polygon points="311.91,138.3 307.3,140.95 307.3,146.27 311.91,143.62" fill="#5C5C5C"/>
<polygon points="307.3,135.65 311.91,138.3 307.3,140.95 302.69,138.3" fill="#8E8E8E"/>
<polyline points="302.69,143.62 302.69,138.3 307.3,140.95 311.91,138.3" fill="none" stroke="#B89A64" stroke-width="0.2" stroke-opacity="0.8"/>
<line x1="307.3" y1="140.95" x2="307.3" y2="146.27" stroke="#B89A64" stroke-width="0.2" stroke-opacity="0.8"/>
<polygon points="321.89,127.27 326.5,129.92 326.5,135.24 321.89,132.59" fill="#7A7A7A"/>
<polygon points="331.11,127.27 326.5,129.92 326.5,135.24 331.11,132.59" fill="#5C5C5C"/>
<polygon points="326.5,124.62 331.11,127.27 326.5,129.92 321.89,127.27" fill="#8E8E8E"/>
<polyline points="321.89,132.59 321.89,127.27 326.5,129.92 331.11,127.27" fill="none" stroke="#B89A64" stroke-width="0.2" stroke-opacity="0.8"/>
<line x1="326.5" y1="129.92" x2="326.5" y2="135.24" stroke="#B89A64" stroke-width="0.2" stroke-opacity="0.8"/>
<polygon points="341.09,116.24 345.7,118.89 345.7,124.21 341.09,121.56" fill="#7A7A7A"/>
<polygon points="350.31,116.24 345.7,118.89 345.7,124.21 350.31,121.56" fill="#5C5C5C"/>
<polygon points="345.7,113.59 350.31,116.24 345.7,118.89 341.09,116.24" fill="#8E8E8E"/>
<polyline points="341.09,121.56 341.09,116.24 345.7,118.89 350.31,116.24" fill="none" stroke="#B89A64" stroke-width="0.2" stroke-opacity="0.8"/>
<line x1="345.7" y1="118.89" x2="345.7" y2="124.21" stroke="#B89A64" stroke-width="0.2" stroke-opacity="0.8"/>
<g transform="translate(356.6 110.5) scale(0.5 0.5)" fill="#22B2E7"><ellipse rx="4.5" ry="7.2" transform="rotate(28)"/><path d="M-11.8 16.5Q-11.8 12.8-8.5 12.3L5.5 4.3Q8.5 2.3 10.3 2.9Q11.8 3.6 11.8 6.3L11.8 27Q11.8 28.8 9.3 28.8Q6.8 28.8 6.8 27L6.8 11.3L6.3 11.6L6.3 59.2Q6.3 61.2 3.5 61.2Q0.8 61.2 0.8 59.2L0.8 35L-0.4 35.6L-0.4 63Q-0.4 65-3.5 65Q-6.7 65-6.7 63L-6.7 19.8L-7.4 20.2L-7.4 38.2Q-7.4 40-9.6 40Q-11.8 40-11.8 38.2Z"/></g>
<g transform="translate(337.9 121.9) scale(0.5 0.5)" fill="#22B2E7"><ellipse rx="4.5" ry="7.2" transform="rotate(28)"/><path d="M-11.8 16.5Q-11.8 12.8-8.5 12.3L5.5 4.3Q8.5 2.3 10.3 2.9Q11.8 3.6 11.8 6.3L11.8 27Q11.8 28.8 9.3 28.8Q6.8 28.8 6.8 27L6.8 11.3L6.3 11.6L6.3 59.2Q6.3 61.2 3.5 61.2Q0.8 61.2 0.8 59.2L0.8 35L-0.4 35.6L-0.4 63Q-0.4 65-3.5 65Q-6.7 65-6.7 63L-6.7 19.8L-7.4 20.2L-7.4 38.2Q-7.4 40-9.6 40Q-11.8 40-11.8 38.2Z"/></g>
<g transform="translate(371.25 124.83) scale(0.5 0.5)" fill="#22B2E7"><ellipse rx="4.5" ry="7.2" transform="rotate(28)"/><path d="M-11.8 16.5Q-11.8 12.8-8.5 12.3L5.5 4.3Q8.5 2.3 10.3 2.9Q11.8 3.6 11.8 6.3L11.8 27Q11.8 28.8 9.3 28.8Q6.8 28.8 6.8 27L6.8 11.3L6.3 11.6L6.3 59.2Q6.3 61.2 3.5 61.2Q0.8 61.2 0.8 59.2L0.8 35L-0.4 35.6L-0.4 63Q-0.4 65-3.5 65Q-6.7 65-6.7 63L-6.7 19.8L-7.4 20.2L-7.4 38.2Q-7.4 40-9.6 40Q-11.8 40-11.8 38.2Z"/></g>
<g transform="translate(352.2 135.73) scale(0.5 0.5)" fill="#22B2E7"><ellipse rx="4.5" ry="7.2" transform="rotate(28)"/><path d="M-11.8 16.5Q-11.8 12.8-8.5 12.3L5.5 4.3Q8.5 2.3 10.3 2.9Q11.8 3.6 11.8 6.3L11.8 27Q11.8 28.8 9.3 28.8Q6.8 28.8 6.8 27L6.8 11.3L6.3 11.6L6.3 59.2Q6.3 61.2 3.5 61.2Q0.8 61.2 0.8 59.2L0.8 35L-0.4 35.6L-0.4 63Q-0.4 65-3.5 65Q-6.7 65-6.7 63L-6.7 19.8L-7.4 20.2L-7.4 38.2Q-7.4 40-9.6 40Q-11.8 40-11.8 38.2Z"/></g>
<polygon points="345.7,171.3 355.3,176.82 355.3,187.91 345.7,182.39" fill="#7C7C7C"/>
<polygon points="412.9,143.73 355.3,176.82 355.3,187.91 412.9,154.81" fill="#5E5E5E"/>
<polygon points="403.3,138.22 412.9,143.73 355.3,176.82 345.7,171.3" fill="#8C8C8C"/>
<polyline points="345.7,182.39 345.7,171.3 355.3,176.82 412.9,143.73" fill="none" stroke="#B89A64" stroke-width="0.2" stroke-opacity="0.8"/>
<line x1="355.3" y1="176.82" x2="355.3" y2="187.91" stroke="#B89A64" stroke-width="0.2" stroke-opacity="0.8"/>
<line x1="403.3" y1="149.24" x2="403.3" y2="160.33" stroke="#857657" stroke-width="0.25"/>
<line x1="393.7" y1="143.73" x2="403.3" y2="149.24" stroke="#9A8C74" stroke-width="0.25" stroke-dasharray="1.4 0.9"/>
<line x1="393.7" y1="154.76" x2="393.7" y2="165.84" stroke="#857657" stroke-width="0.25"/>
<line x1="384.1" y1="149.24" x2="393.7" y2="154.76" stroke="#9A8C74" stroke-width="0.25" stroke-dasharray="1.4 0.9"/>
<line x1="384.1" y1="160.28" x2="384.1" y2="171.36" stroke="#857657" stroke-width="0.25"/>
<line x1="374.5" y1="154.76" x2="384.1" y2="160.28" stroke="#9A8C74" stroke-width="0.25" stroke-dasharray="1.4 0.9"/>
<line x1="374.5" y1="165.79" x2="374.5" y2="176.88" stroke="#857657" stroke-width="0.25"/>
<line x1="364.9" y1="160.28" x2="374.5" y2="165.79" stroke="#9A8C74" stroke-width="0.25" stroke-dasharray="1.4 0.9"/>
<line x1="364.9" y1="171.3" x2="364.9" y2="182.39" stroke="#857657" stroke-width="0.25"/>
<line x1="355.3" y1="165.79" x2="364.9" y2="171.3" stroke="#9A8C74" stroke-width="0.25" stroke-dasharray="1.4 0.9"/>
<polygon points="350.69,165.87 355.3,168.52 355.3,173.84 350.69,171.19" fill="#7A7A7A"/>
<polygon points="359.91,165.87 355.3,168.52 355.3,173.84 359.91,171.19" fill="#5C5C5C"/>
<polygon points="355.3,163.23 359.91,165.87 355.3,168.52 350.69,165.87" fill="#8E8E8E"/>
<polyline points="350.69,171.19 350.69,165.87 355.3,168.52 359.91,165.87" fill="none" stroke="#B89A64" stroke-width="0.2" stroke-opacity="0.8"/>
<line x1="355.3" y1="168.52" x2="355.3" y2="173.84" stroke="#B89A64" stroke-width="0.2" stroke-opacity="0.8"/>
<polygon points="369.89,154.84 374.5,157.49 374.5,162.81 369.89,160.16" fill="#7A7A7A"/>
<polygon points="379.11,154.84 374.5,157.49 374.5,162.81 379.11,160.16" fill="#5C5C5C"/>
<polygon points="374.5,152.2 379.11,154.84 374.5,157.49 369.89,154.84" fill="#8E8E8E"/>
<polyline points="369.89,160.16 369.89,154.84 374.5,157.49 379.11,154.84" fill="none" stroke="#B89A64" stroke-width="0.2" stroke-opacity="0.8"/>
<line x1="374.5" y1="157.49" x2="374.5" y2="162.81" stroke="#B89A64" stroke-width="0.2" stroke-opacity="0.8"/>
<polygon points="389.09,143.81 393.7,146.46 393.7,151.78 389.09,149.13" fill="#7A7A7A"/>
<polygon points="398.31,143.81 393.7,146.46 393.7,151.78 398.31,149.13" fill="#5C5C5C"/>
<polygon points="393.7,141.17 398.31,143.81 393.7,146.46 389.09,143.81" fill="#8E8E8E"/>
<polyline points="389.09,149.13 389.09,143.81 393.7,146.46 398.31,143.81" fill="none" stroke="#B89A64" stroke-width="0.2" stroke-opacity="0.8"/>
<line x1="393.7" y1="146.46" x2="393.7" y2="151.78" stroke="#B89A64" stroke-width="0.2" stroke-opacity="0.8"/>
<g transform="translate(404.6 138.07) scale(0.5 0.5)" fill="#22B2E7"><ellipse rx="4.5" ry="7.2" transform="rotate(28)"/><path d="M-11.8 16.5Q-11.8 12.8-8.5 12.3L5.5 4.3Q8.5 2.3 10.3 2.9Q11.8 3.6 11.8 6.3L11.8 27Q11.8 28.8 9.3 28.8Q6.8 28.8 6.8 27L6.8 11.3L6.3 11.6L6.3 59.2Q6.3 61.2 3.5 61.2Q0.8 61.2 0.8 59.2L0.8 35L-0.4 35.6L-0.4 63Q-0.4 65-3.5 65Q-6.7 65-6.7 63L-6.7 19.8L-7.4 20.2L-7.4 38.2Q-7.4 40-9.6 40Q-11.8 40-11.8 38.2Z"/></g>
<g transform="translate(385.9 149.48) scale(0.5 0.5)" fill="#22B2E7"><ellipse rx="4.5" ry="7.2" transform="rotate(28)"/><path d="M-11.8 16.5Q-11.8 12.8-8.5 12.3L5.5 4.3Q8.5 2.3 10.3 2.9Q11.8 3.6 11.8 6.3L11.8 27Q11.8 28.8 9.3 28.8Q6.8 28.8 6.8 27L6.8 11.3L6.3 11.6L6.3 59.2Q6.3 61.2 3.5 61.2Q0.8 61.2 0.8 59.2L0.8 35L-0.4 35.6L-0.4 63Q-0.4 65-3.5 65Q-6.7 65-6.7 63L-6.7 19.8L-7.4 20.2L-7.4 38.2Q-7.4 40-9.6 40Q-11.8 40-11.8 38.2Z"/></g>
<polygon points="460.9,149.3 556.9,204.45 556.9,204.45 460.9,149.3" fill="#CACBCB"/>
<polygon points="652.9,149.3 556.9,204.45 556.9,204.45 652.9,149.3" fill="#A3A4A4"/>
<polygon points="556.9,94.15 652.9,149.3 556.9,204.45 460.9,149.3" fill="#DCDDDD"/>
<line x1="566.5" y1="99.67" x2="470.5" y2="154.81" stroke="#C7C8C8" stroke-width="0.45" stroke-dasharray="1.4 0.9"/>
<line x1="547.3" y1="99.67" x2="643.3" y2="154.81" stroke="#C7C8C8" stroke-width="0.45" stroke-dasharray="1.4 0.9"/>
<line x1="576.1" y1="105.18" x2="480.1" y2="160.33" stroke="#C7C8C8" stroke-width="0.45" stroke-dasharray="1.4 0.9"/>
<line x1="537.7" y1="105.18" x2="633.7" y2="160.33" stroke="#C7C8C8" stroke-width="0.45" stroke-dasharray="1.4 0.9"/>
<line x1="585.7" y1="110.7" x2="489.7" y2="165.84" stroke="#C7C8C8" stroke-width="0.45" stroke-dasharray="1.4 0.9"/>
<line x1="528.1" y1="110.7" x2="624.1" y2="165.84" stroke="#C7C8C8" stroke-width="0.45" stroke-dasharray="1.4 0.9"/>
<line x1="595.3" y1="116.21" x2="499.3" y2="171.36" stroke="#C7C8C8" stroke-width="0.45" stroke-dasharray="1.4 0.9"/>
<line x1="518.5" y1="116.21" x2="614.5" y2="171.36" stroke="#C7C8C8" stroke-width="0.45" stroke-dasharray="1.4 0.9"/>
<line x1="604.9" y1="121.73" x2="508.9" y2="176.88" stroke="#C7C8C8" stroke-width="0.45" stroke-dasharray="1.4 0.9"/>
<line x1="508.9" y1="121.73" x2="604.9" y2="176.88" stroke="#C7C8C8" stroke-width="0.45" stroke-dasharray="1.4 0.9"/>
<line x1="614.5" y1="127.24" x2="518.5" y2="182.39" stroke="#C7C8C8" stroke-width="0.45" stroke-dasharray="1.4 0.9"/>
<line x1="499.3" y1="127.24" x2="595.3" y2="182.39" stroke="#C7C8C8" stroke-width="0.45" stroke-dasharray="1.4 0.9"/>
<line x1="624.1" y1="132.75" x2="528.1" y2="187.91" stroke="#C7C8C8" stroke-width="0.45" stroke-dasharray="1.4 0.9"/>
<line x1="489.7" y1="132.75" x2="585.7" y2="187.91" stroke="#C7C8C8" stroke-width="0.45" stroke-dasharray="1.4 0.9"/>
<line x1="633.7" y1="138.27" x2="537.7" y2="193.42" stroke="#C7C8C8" stroke-width="0.45" stroke-dasharray="1.4 0.9"/>
<line x1="480.1" y1="138.27" x2="576.1" y2="193.42" stroke="#C7C8C8" stroke-width="0.45" stroke-dasharray="1.4 0.9"/>
<line x1="643.3" y1="143.78" x2="547.3" y2="198.94" stroke="#C7C8C8" stroke-width="0.45" stroke-dasharray="1.4 0.9"/>
<line x1="470.5" y1="143.78" x2="566.5" y2="198.94" stroke="#C7C8C8" stroke-width="0.45" stroke-dasharray="1.4 0.9"/>
<line x1="470.5" y1="154.81" x2="470.5" y2="154.81" stroke="#E6E6E6" stroke-width="0.45"/>
<line x1="643.3" y1="154.81" x2="643.3" y2="154.81" stroke="#E6E6E6" stroke-width="0.36000000000000004"/>
<line x1="480.1" y1="160.33" x2="480.1" y2="160.33" stroke="#E6E6E6" stroke-width="0.45"/>
<line x1="633.7" y1="160.33" x2="633.7" y2="160.33" stroke="#E6E6E6" stroke-width="0.36000000000000004"/>
<line x1="489.7" y1="165.84" x2="489.7" y2="165.84" stroke="#E6E6E6" stroke-width="0.45"/>
<line x1="624.1" y1="165.84" x2="624.1" y2="165.84" stroke="#E6E6E6" stroke-width="0.36000000000000004"/>
<line x1="499.3" y1="171.36" x2="499.3" y2="171.36" stroke="#E6E6E6" stroke-width="0.45"/>
<line x1="614.5" y1="171.36" x2="614.5" y2="171.36" stroke="#E6E6E6" stroke-width="0.36000000000000004"/>
<line x1="508.9" y1="176.88" x2="508.9" y2="176.88" stroke="#E6E6E6" stroke-width="0.45"/>
<line x1="604.9" y1="176.88" x2="604.9" y2="176.88" stroke="#E6E6E6" stroke-width="0.36000000000000004"/>
<line x1="518.5" y1="182.39" x2="518.5" y2="182.39" stroke="#E6E6E6" stroke-width="0.45"/>
<line x1="595.3" y1="182.39" x2="595.3" y2="182.39" stroke="#E6E6E6" stroke-width="0.36000000000000004"/>
<line x1="528.1" y1="187.91" x2="528.1" y2="187.91" stroke="#E6E6E6" stroke-width="0.45"/>
<line x1="585.7" y1="187.91" x2="585.7" y2="187.91" stroke="#E6E6E6" stroke-width="0.36000000000000004"/>
<line x1="537.7" y1="193.42" x2="537.7" y2="193.42" stroke="#E6E6E6" stroke-width="0.45"/>
<line x1="576.1" y1="193.42" x2="576.1" y2="193.42" stroke="#E6E6E6" stroke-width="0.36000000000000004"/>
<line x1="547.3" y1="198.94" x2="547.3" y2="198.94" stroke="#E6E6E6" stroke-width="0.45"/>
<line x1="566.5" y1="198.94" x2="566.5" y2="198.94" stroke="#E6E6E6" stroke-width="0.36000000000000004"/>
<g transform="translate(574.4 82.4) scale(0.5 0.5)" fill="#22B2E7"><ellipse rx="4.6" ry="7.1" transform="rotate(-22)"/><path d="M-19.8-14.5Q-20.5-18.5-17.2-18.3Q-15.8-18.1-15.3-17.2L-4.3 6.2Q-1 8.6 3.5 8.3Q11.6 9.5 11.6 16.5L11.6 39.5Q11.6 41.2 9.5 41.2Q7.4 41.2 7.4 39.5L7.4 19L6.8 19.3L6.8 68.5Q6.8 70.5 3.8 70.5Q0.8 70.5 0.8 68.5L0.8 44.5L-0.4 45L-0.4 72.5Q-0.4 74.5-3.3 74.5Q-6.2 74.5-6.2 72.5L-6.2 12.5L-7.6 11.6Z"/></g>
<g transform="translate(622.4 109.98) scale(0.5 0.5)" fill="#22B2E7"><ellipse rx="4.6" ry="7.1" transform="rotate(-22)"/><path d="M-19.8-14.5Q-20.5-18.5-17.2-18.3Q-15.8-18.1-15.3-17.2L-4.3 6.2Q-1 8.6 3.5 8.3Q11.6 9.5 11.6 16.5L11.6 39.5Q11.6 41.2 9.5 41.2Q7.4 41.2 7.4 39.5L7.4 19L6.8 19.3L6.8 68.5Q6.8 70.5 3.8 70.5Q0.8 70.5 0.8 68.5L0.8 44.5L-0.4 45L-0.4 72.5Q-0.4 74.5-3.3 74.5Q-6.2 74.5-6.2 72.5L-6.2 12.5L-7.6 11.6Z"/></g>
<polygon points="537.7,94.04 566.5,110.58 566.5,132.75 537.7,116.21" fill="#7C7C7C"/>
<polygon points="576.1,105.07 566.5,110.58 566.5,132.75 576.1,127.24" fill="#5E5E5E"/>
<polygon points="547.3,88.53 576.1,105.07 566.5,110.58 537.7,94.04" fill="#8C8C8C"/>
<polyline points="537.7,116.21 537.7,94.04 566.5,110.58 576.1,105.07" fill="none" stroke="#B89A64" stroke-width="0.2" stroke-opacity="0.8"/>
<line x1="566.5" y1="110.58" x2="566.5" y2="132.75" stroke="#B89A64" stroke-width="0.2" stroke-opacity="0.8"/>
<line x1="556.9" y1="94.04" x2="547.3" y2="99.56" stroke="#9A8C74" stroke-width="0.25" stroke-dasharray="1.4 0.9"/>
<line x1="566.5" y1="99.56" x2="556.9" y2="105.07" stroke="#9A8C74" stroke-width="0.25" stroke-dasharray="1.4 0.9"/>
<line x1="547.3" y1="99.56" x2="547.3" y2="121.73" stroke="#8E8270" stroke-width="0.25"/>
<line x1="556.9" y1="105.07" x2="556.9" y2="127.24" stroke="#8E8270" stroke-width="0.25"/>
<line x1="537.7" y1="105.12" x2="566.5" y2="121.67" stroke="#8E8270" stroke-width="0.25"/>
<line x1="576.1" y1="116.16" x2="566.5" y2="121.67" stroke="#7A6E5C" stroke-width="0.25"/>
<polygon points="549.22,104.87 554.98,108.18 554.98,115.05 549.22,111.74" fill="#231815"/>
<polygon points="585.7,121.61 614.5,138.16 614.5,160.33 585.7,143.78" fill="#7C7C7C"/>
<polygon points="624.1,132.64 614.5,138.16 614.5,160.33 624.1,154.81" fill="#5E5E5E"/>
<polygon points="595.3,116.1 624.1,132.64 614.5,138.16 585.7,121.61" fill="#8C8C8C"/>
<polyline points="585.7,143.78 585.7,121.61 614.5,138.16 624.1,132.64" fill="none" stroke="#B89A64" stroke-width="0.2" stroke-opacity="0.8"/>
<line x1="614.5" y1="138.16" x2="614.5" y2="160.33" stroke="#B89A64" stroke-width="0.2" stroke-opacity="0.8"/>
<line x1="604.9" y1="121.61" x2="595.3" y2="127.13" stroke="#9A8C74" stroke-width="0.25" stroke-dasharray="1.4 0.9"/>
<line x1="614.5" y1="127.13" x2="604.9" y2="132.64" stroke="#9A8C74" stroke-width="0.25" stroke-dasharray="1.4 0.9"/>
<line x1="595.3" y1="127.13" x2="595.3" y2="149.3" stroke="#8E8270" stroke-width="0.25"/>
<line x1="604.9" y1="132.64" x2="604.9" y2="154.81" stroke="#8E8270" stroke-width="0.25"/>
<line x1="585.7" y1="132.7" x2="614.5" y2="149.24" stroke="#8E8270" stroke-width="0.25"/>
<line x1="624.1" y1="143.73" x2="614.5" y2="149.24" stroke="#7A6E5C" stroke-width="0.25"/>
<polygon points="597.22,132.45 602.98,135.75 602.98,142.63 597.22,139.32" fill="#231815"/>
<g transform="translate(515.25 97.25) scale(0.5 0.5)" fill="#22B2E7"><ellipse rx="4.5" ry="7.2" transform="rotate(28)"/><path d="M-11.8 16.5Q-11.8 12.8-8.5 12.3L5.5 4.3Q8.5 2.3 10.3 2.9Q11.8 3.6 11.8 6.3L11.8 27Q11.8 28.8 9.3 28.8Q6.8 28.8 6.8 27L6.8 11.3L6.3 11.6L6.3 59.2Q6.3 61.2 3.5 61.2Q0.8 61.2 0.8 59.2L0.8 35L-0.4 35.6L-0.4 63Q-0.4 65-3.5 65Q-6.7 65-6.7 63L-6.7 19.8L-7.4 20.2L-7.4 38.2Q-7.4 40-9.6 40Q-11.8 40-11.8 38.2Z"/></g>
<g transform="translate(496.2 108.15) scale(0.5 0.5)" fill="#22B2E7"><ellipse rx="4.5" ry="7.2" transform="rotate(28)"/><path d="M-11.8 16.5Q-11.8 12.8-8.5 12.3L5.5 4.3Q8.5 2.3 10.3 2.9Q11.8 3.6 11.8 6.3L11.8 27Q11.8 28.8 9.3 28.8Q6.8 28.8 6.8 27L6.8 11.3L6.3 11.6L6.3 59.2Q6.3 61.2 3.5 61.2Q0.8 61.2 0.8 59.2L0.8 35L-0.4 35.6L-0.4 63Q-0.4 65-3.5 65Q-6.7 65-6.7 63L-6.7 19.8L-7.4 20.2L-7.4 38.2Q-7.4 40-9.6 40Q-11.8 40-11.8 38.2Z"/></g>
<polygon points="489.7,143.73 499.3,149.24 499.3,160.33 489.7,154.81" fill="#7C7C7C"/>
<polygon points="556.9,116.16 499.3,149.24 499.3,160.33 556.9,127.24" fill="#5E5E5E"/>
<polygon points="547.3,110.64 556.9,116.16 499.3,149.24 489.7,143.73" fill="#8C8C8C"/>
<polyline points="489.7,154.81 489.7,143.73 499.3,149.24 556.9,116.16" fill="none" stroke="#B89A64" stroke-width="0.2" stroke-opacity="0.8"/>
<line x1="499.3" y1="149.24" x2="499.3" y2="160.33" stroke="#B89A64" stroke-width="0.2" stroke-opacity="0.8"/>
<line x1="547.3" y1="121.67" x2="547.3" y2="132.75" stroke="#857657" stroke-width="0.25"/>
<line x1="537.7" y1="116.16" x2="547.3" y2="121.67" stroke="#9A8C74" stroke-width="0.25" stroke-dasharray="1.4 0.9"/>
<line x1="537.7" y1="127.19" x2="537.7" y2="138.27" stroke="#857657" stroke-width="0.25"/>
<line x1="528.1" y1="121.67" x2="537.7" y2="127.19" stroke="#9A8C74" stroke-width="0.25" stroke-dasharray="1.4 0.9"/>
<line x1="528.1" y1="132.7" x2="528.1" y2="143.78" stroke="#857657" stroke-width="0.25"/>
<line x1="518.5" y1="127.19" x2="528.1" y2="132.7" stroke="#9A8C74" stroke-width="0.25" stroke-dasharray="1.4 0.9"/>
<line x1="518.5" y1="138.22" x2="518.5" y2="149.3" stroke="#857657" stroke-width="0.25"/>
<line x1="508.9" y1="132.7" x2="518.5" y2="138.22" stroke="#9A8C74" stroke-width="0.25" stroke-dasharray="1.4 0.9"/>
<line x1="508.9" y1="143.73" x2="508.9" y2="154.81" stroke="#857657" stroke-width="0.25"/>
<line x1="499.3" y1="138.22" x2="508.9" y2="143.73" stroke="#9A8C74" stroke-width="0.25" stroke-dasharray="1.4 0.9"/>
<polygon points="494.69,138.3 499.3,140.95 499.3,146.27 494.69,143.62" fill="#7A7A7A"/>
<polygon points="503.91,138.3 499.3,140.95 499.3,146.27 503.91,143.62" fill="#5C5C5C"/>
<polygon points="499.3,135.65 503.91,138.3 499.3,140.95 494.69,138.3" fill="#8E8E8E"/>
<polyline points="494.69,143.62 494.69,138.3 499.3,140.95 503.91,138.3" fill="none" stroke="#B89A64" stroke-width="0.2" stroke-opacity="0.8"/>
<line x1="499.3" y1="140.95" x2="499.3" y2="146.27" stroke="#B89A64" stroke-width="0.2" stroke-opacity="0.8"/>
<polygon points="513.89,127.27 518.5,129.92 518.5,135.24 513.89,132.59" fill="#7A7A7A"/>
<polygon points="523.11,127.27 518.5,129.92 518.5,135.24 523.11,132.59" fill="#5C5C5C"/>
<polygon points="518.5,124.62 523.11,127.27 518.5,129.92 513.89,127.27" fill="#8E8E8E"/>
<polyline points="513.89,132.59 513.89,127.27 518.5,129.92 523.11,127.27" fill="none" stroke="#B89A64" stroke-width="0.2" stroke-opacity="0.8"/>
<line x1="518.5" y1="129.92" x2="518.5" y2="135.24" stroke="#B89A64" stroke-width="0.2" stroke-opacity="0.8"/>
<polygon points="533.09,116.24 537.7,118.89 537.7,124.21 533.09,121.56" fill="#7A7A7A"/>
<polygon points="542.31,116.24 537.7,118.89 537.7,124.21 542.31,121.56" fill="#5C5C5C"/>
<polygon points="537.7,113.59 542.31,116.24 537.7,118.89 533.09,116.24" fill="#8E8E8E"/>
<polyline points="533.09,121.56 533.09,116.24 537.7,118.89 542.31,116.24" fill="none" stroke="#B89A64" stroke-width="0.2" stroke-opacity="0.8"/>
<line x1="537.7" y1="118.89" x2="537.7" y2="124.21" stroke="#B89A64" stroke-width="0.2" stroke-opacity="0.8"/>
<g transform="translate(548.6 110.5) scale(0.5 0.5)" fill="#22B2E7"><ellipse rx="4.5" ry="7.2" transform="rotate(28)"/><path d="M-11.8 16.5Q-11.8 12.8-8.5 12.3L5.5 4.3Q8.5 2.3 10.3 2.9Q11.8 3.6 11.8 6.3L11.8 27Q11.8 28.8 9.3 28.8Q6.8 28.8 6.8 27L6.8 11.3L6.3 11.6L6.3 59.2Q6.3 61.2 3.5 61.2Q0.8 61.2 0.8 59.2L0.8 35L-0.4 35.6L-0.4 63Q-0.4 65-3.5 65Q-6.7 65-6.7 63L-6.7 19.8L-7.4 20.2L-7.4 38.2Q-7.4 40-9.6 40Q-11.8 40-11.8 38.2Z"/></g>
<g transform="translate(529.9 121.9) scale(0.5 0.5)" fill="#22B2E7"><ellipse rx="4.5" ry="7.2" transform="rotate(28)"/><path d="M-11.8 16.5Q-11.8 12.8-8.5 12.3L5.5 4.3Q8.5 2.3 10.3 2.9Q11.8 3.6 11.8 6.3L11.8 27Q11.8 28.8 9.3 28.8Q6.8 28.8 6.8 27L6.8 11.3L6.3 11.6L6.3 59.2Q6.3 61.2 3.5 61.2Q0.8 61.2 0.8 59.2L0.8 35L-0.4 35.6L-0.4 63Q-0.4 65-3.5 65Q-6.7 65-6.7 63L-6.7 19.8L-7.4 20.2L-7.4 38.2Q-7.4 40-9.6 40Q-11.8 40-11.8 38.2Z"/></g>
<g transform="translate(563.25 124.83) scale(0.5 0.5)" fill="#22B2E7"><ellipse rx="4.5" ry="7.2" transform="rotate(28)"/><path d="M-11.8 16.5Q-11.8 12.8-8.5 12.3L5.5 4.3Q8.5 2.3 10.3 2.9Q11.8 3.6 11.8 6.3L11.8 27Q11.8 28.8 9.3 28.8Q6.8 28.8 6.8 27L6.8 11.3L6.3 11.6L6.3 59.2Q6.3 61.2 3.5 61.2Q0.8 61.2 0.8 59.2L0.8 35L-0.4 35.6L-0.4 63Q-0.4 65-3.5 65Q-6.7 65-6.7 63L-6.7 19.8L-7.4 20.2L-7.4 38.2Q-7.4 40-9.6 40Q-11.8 40-11.8 38.2Z"/></g>
<g transform="translate(544.2 135.73) scale(0.5 0.5)" fill="#22B2E7"><ellipse rx="4.5" ry="7.2" transform="rotate(28)"/><path d="M-11.8 16.5Q-11.8 12.8-8.5 12.3L5.5 4.3Q8.5 2.3 10.3 2.9Q11.8 3.6 11.8 6.3L11.8 27Q11.8 28.8 9.3 28.8Q6.8 28.8 6.8 27L6.8 11.3L6.3 11.6L6.3 59.2Q6.3 61.2 3.5 61.2Q0.8 61.2 0.8 59.2L0.8 35L-0.4 35.6L-0.4 63Q-0.4 65-3.5 65Q-6.7 65-6.7 63L-6.7 19.8L-7.4 20.2L-7.4 38.2Q-7.4 40-9.6 40Q-11.8 40-11.8 38.2Z"/></g>
<polygon points="537.7,171.3 547.3,176.82 547.3,187.91 537.7,182.39" fill="#7C7C7C"/>
<polygon points="604.9,143.73 547.3,176.82 547.3,187.91 604.9,154.81" fill="#5E5E5E"/>
<polygon points="595.3,138.22 604.9,143.73 547.3,176.82 537.7,171.3" fill="#8C8C8C"/>
<polyline points="537.7,182.39 537.7,171.3 547.3,176.82 604.9,143.73" fill="none" stroke="#B89A64" stroke-width="0.2" stroke-opacity="0.8"/>
<line x1="547.3" y1="176.82" x2="547.3" y2="187.91" stroke="#B89A64" stroke-width="0.2" stroke-opacity="0.8"/>
<line x1="595.3" y1="149.24" x2="595.3" y2="160.33" stroke="#857657" stroke-width="0.25"/>
<line x1="585.7" y1="143.73" x2="595.3" y2="149.24" stroke="#9A8C74" stroke-width="0.25" stroke-dasharray="1.4 0.9"/>
<line x1="585.7" y1="154.76" x2="585.7" y2="165.84" stroke="#857657" stroke-width="0.25"/>
<line x1="576.1" y1="149.24" x2="585.7" y2="154.76" stroke="#9A8C74" stroke-width="0.25" stroke-dasharray="1.4 0.9"/>
<line x1="576.1" y1="160.28" x2="576.1" y2="171.36" stroke="#857657" stroke-width="0.25"/>
<line x1="566.5" y1="154.76" x2="576.1" y2="160.28" stroke="#9A8C74" stroke-width="0.25" stroke-dasharray="1.4 0.9"/>
<line x1="566.5" y1="165.79" x2="566.5" y2="176.88" stroke="#857657" stroke-width="0.25"/>
<line x1="556.9" y1="160.28" x2="566.5" y2="165.79" stroke="#9A8C74" stroke-width="0.25" stroke-dasharray="1.4 0.9"/>
<line x1="556.9" y1="171.3" x2="556.9" y2="182.39" stroke="#857657" stroke-width="0.25"/>
<line x1="547.3" y1="165.79" x2="556.9" y2="171.3" stroke="#9A8C74" stroke-width="0.25" stroke-dasharray="1.4 0.9"/>
<polygon points="542.69,165.87 547.3,168.52 547.3,173.84 542.69,171.19" fill="#7A7A7A"/>
<polygon points="551.91,165.87 547.3,168.52 547.3,173.84 551.91,171.19" fill="#5C5C5C"/>
<polygon points="547.3,163.23 551.91,165.87 547.3,168.52 542.69,165.87" fill="#8E8E8E"/>
<polyline points="542.69,171.19 542.69,165.87 547.3,168.52 551.91,165.87" fill="none" stroke="#B89A64" stroke-width="0.2" stroke-opacity="0.8"/>
<line x1="547.3" y1="168.52" x2="547.3" y2="173.84" stroke="#B89A64" stroke-width="0.2" stroke-opacity="0.8"/>
<polygon points="561.89,154.84 566.5,157.49 566.5,162.81 561.89,160.16" fill="#7A7A7A"/>
<polygon points="571.11,154.84 566.5,157.49 566.5,162.81 571.11,160.16" fill="#5C5C5C"/>
<polygon points="566.5,152.2 571.11,154.84 566.5,157.49 561.89,154.84" fill="#8E8E8E"/>
<polyline points="561.89,160.16 561.89,154.84 566.5,157.49 571.11,154.84" fill="none" stroke="#B89A64" stroke-width="0.2" stroke-opacity="0.8"/>
<line x1="566.5" y1="157.49" x2="566.5" y2="162.81" stroke="#B89A64" stroke-width="0.2" stroke-opacity="0.8"/>
<polygon points="581.09,143.81 585.7,146.46 585.7,151.78 581.09,149.13" fill="#7A7A7A"/>
<polygon points="590.31,143.81 585.7,146.46 585.7,151.78 590.31,149.13" fill="#5C5C5C"/>
<polygon points="585.7,141.17 590.31,143.81 585.7,146.46 581.09,143.81" fill="#8E8E8E"/>
<polyline points="581.09,149.13 581.09,143.81 585.7,146.46 590.31,143.81" fill="none" stroke="#B89A64" stroke-width="0.2" stroke-opacity="0.8"/>
<line x1="585.7" y1="146.46" x2="585.7" y2="151.78" stroke="#B89A64" stroke-width="0.2" stroke-opacity="0.8"/>
<g transform="translate(596.6 138.07) scale(0.5 0.5)" fill="#22B2E7"><ellipse rx="4.5" ry="7.2" transform="rotate(28)"/><path d="M-11.8 16.5Q-11.8 12.8-8.5 12.3L5.5 4.3Q8.5 2.3 10.3 2.9Q11.8 3.6 11.8 6.3L11.8 27Q11.8 28.8 9.3 28.8Q6.8 28.8 6.8 27L6.8 11.3L6.3 11.6L6.3 59.2Q6.3 61.2 3.5 61.2Q0.8 61.2 0.8 59.2L0.8 35L-0.4 35.6L-0.4 63Q-0.4 65-3.5 65Q-6.7 65-6.7 63L-6.7 19.8L-7.4 20.2L-7.4 38.2Q-7.4 40-9.6 40Q-11.8 40-11.8 38.2Z"/></g>
<g transform="translate(577.9 149.48) scale(0.5 0.5)" fill="#22B2E7"><ellipse rx="4.5" ry="7.2" transform="rotate(28)"/><path d="M-11.8 16.5Q-11.8 12.8-8.5 12.3L5.5 4.3Q8.5 2.3 10.3 2.9Q11.8 3.6 11.8 6.3L11.8 27Q11.8 28.8 9.3 28.8Q6.8 28.8 6.8 27L6.8 11.3L6.3 11.6L6.3 59.2Q6.3 61.2 3.5 61.2Q0.8 61.2 0.8 59.2L0.8 35L-0.4 35.6L-0.4 63Q-0.4 65-3.5 65Q-6.7 65-6.7 63L-6.7 19.8L-7.4 20.2L-7.4 38.2Q-7.4 40-9.6 40Q-11.8 40-11.8 38.2Z"/></g>
<polygon points="460.9,116.05 364.9,171.19 364.9,204.45 460.9,149.3" fill="#A5A5A5"/>
<polygon points="460.9,116.05 556.9,171.19 556.9,204.45 460.9,149.3" fill="#CDCDCD"/>
<polygon points="364.9,204.45 460.9,259.6 460.9,259.6 364.9,204.45" fill="#E3A42B"/>
<polygon points="556.9,204.45 460.9,259.6 460.9,259.6 556.9,204.45" fill="#A97B1F"/>
<polygon points="460.9,149.3 556.9,204.45 460.9,259.6 364.9,204.45" fill="#F8B62D"/>
<line x1="470.5" y1="154.81" x2="374.5" y2="209.97" stroke="#F6D08C" stroke-width="0.45" stroke-dasharray="1.4 0.9"/>
<line x1="451.3" y1="154.81" x2="547.3" y2="209.97" stroke="#F6D08C" stroke-width="0.45" stroke-dasharray="1.4 0.9"/>
<line x1="480.1" y1="160.33" x2="384.1" y2="215.48" stroke="#F6D08C" stroke-width="0.45" stroke-dasharray="1.4 0.9"/>
<line x1="441.7" y1="160.33" x2="537.7" y2="215.48" stroke="#F6D08C" stroke-width="0.45" stroke-dasharray="1.4 0.9"/>
<line x1="489.7" y1="165.84" x2="393.7" y2="221" stroke="#F6D08C" stroke-width="0.45" stroke-dasharray="1.4 0.9"/>
<line x1="432.1" y1="165.84" x2="528.1" y2="221" stroke="#F6D08C" stroke-width="0.45" stroke-dasharray="1.4 0.9"/>
<line x1="499.3" y1="171.36" x2="403.3" y2="226.51" stroke="#F6D08C" stroke-width="0.45" stroke-dasharray="1.4 0.9"/>
<line x1="422.5" y1="171.36" x2="518.5" y2="226.51" stroke="#F6D08C" stroke-width="0.45" stroke-dasharray="1.4 0.9"/>
<line x1="508.9" y1="176.88" x2="412.9" y2="232.03" stroke="#F6D08C" stroke-width="0.45" stroke-dasharray="1.4 0.9"/>
<line x1="412.9" y1="176.88" x2="508.9" y2="232.03" stroke="#F6D08C" stroke-width="0.45" stroke-dasharray="1.4 0.9"/>
<line x1="518.5" y1="182.39" x2="422.5" y2="237.54" stroke="#F6D08C" stroke-width="0.45" stroke-dasharray="1.4 0.9"/>
<line x1="403.3" y1="182.39" x2="499.3" y2="237.54" stroke="#F6D08C" stroke-width="0.45" stroke-dasharray="1.4 0.9"/>
<line x1="528.1" y1="187.91" x2="432.1" y2="243.06" stroke="#F6D08C" stroke-width="0.45" stroke-dasharray="1.4 0.9"/>
<line x1="393.7" y1="187.91" x2="489.7" y2="243.06" stroke="#F6D08C" stroke-width="0.45" stroke-dasharray="1.4 0.9"/>
<line x1="537.7" y1="193.42" x2="441.7" y2="248.57" stroke="#F6D08C" stroke-width="0.45" stroke-dasharray="1.4 0.9"/>
<line x1="384.1" y1="193.42" x2="480.1" y2="248.57" stroke="#F6D08C" stroke-width="0.45" stroke-dasharray="1.4 0.9"/>
<line x1="547.3" y1="198.94" x2="451.3" y2="254.09" stroke="#F6D08C" stroke-width="0.45" stroke-dasharray="1.4 0.9"/>
<line x1="374.5" y1="198.94" x2="470.5" y2="254.09" stroke="#F6D08C" stroke-width="0.45" stroke-dasharray="1.4 0.9"/>
<line x1="374.5" y1="209.97" x2="374.5" y2="209.97" stroke="#EFC572" stroke-width="0.45"/>
<line x1="547.3" y1="209.97" x2="547.3" y2="209.97" stroke="#EFC572" stroke-width="0.36000000000000004"/>
<line x1="384.1" y1="215.48" x2="384.1" y2="215.48" stroke="#EFC572" stroke-width="0.45"/>
<line x1="537.7" y1="215.48" x2="537.7" y2="215.48" stroke="#EFC572" stroke-width="0.36000000000000004"/>
<line x1="393.7" y1="221" x2="393.7" y2="221" stroke="#EFC572" stroke-width="0.45"/>
<line x1="528.1" y1="221" x2="528.1" y2="221" stroke="#EFC572" stroke-width="0.36000000000000004"/>
<line x1="403.3" y1="226.51" x2="403.3" y2="226.51" stroke="#EFC572" stroke-width="0.45"/>
<line x1="518.5" y1="226.51" x2="518.5" y2="226.51" stroke="#EFC572" stroke-width="0.36000000000000004"/>
<line x1="412.9" y1="232.03" x2="412.9" y2="232.03" stroke="#EFC572" stroke-width="0.45"/>
<line x1="508.9" y1="232.03" x2="508.9" y2="232.03" stroke="#EFC572" stroke-width="0.36000000000000004"/>
<line x1="422.5" y1="237.54" x2="422.5" y2="237.54" stroke="#EFC572" stroke-width="0.45"/>
<line x1="499.3" y1="237.54" x2="499.3" y2="237.54" stroke="#EFC572" stroke-width="0.36000000000000004"/>
<line x1="432.1" y1="243.06" x2="432.1" y2="243.06" stroke="#EFC572" stroke-width="0.45"/>
<line x1="489.7" y1="243.06" x2="489.7" y2="243.06" stroke="#EFC572" stroke-width="0.36000000000000004"/>
<line x1="441.7" y1="248.57" x2="441.7" y2="248.57" stroke="#EFC572" stroke-width="0.45"/>
<line x1="480.1" y1="248.57" x2="480.1" y2="248.57" stroke="#EFC572" stroke-width="0.36000000000000004"/>
<line x1="451.3" y1="254.09" x2="451.3" y2="254.09" stroke="#EFC572" stroke-width="0.45"/>
<line x1="470.5" y1="254.09" x2="470.5" y2="254.09" stroke="#EFC572" stroke-width="0.36000000000000004"/>
<g transform="translate(478.4 137.55) scale(0.5 0.5)" fill="#F39800"><ellipse rx="4.6" ry="7.1" transform="rotate(-22)"/><path d="M-19.8-14.5Q-20.5-18.5-17.2-18.3Q-15.8-18.1-15.3-17.2L-4.3 6.2Q-1 8.6 3.5 8.3Q11.6 9.5 11.6 16.5L11.6 39.5Q11.6 41.2 9.5 41.2Q7.4 41.2 7.4 39.5L7.4 19L6.8 19.3L6.8 68.5Q6.8 70.5 3.8 70.5Q0.8 70.5 0.8 68.5L0.8 44.5L-0.4 45L-0.4 72.5Q-0.4 74.5-3.3 74.5Q-6.2 74.5-6.2 72.5L-6.2 12.5L-7.6 11.6Z"/></g>
<g transform="translate(526.4 165.12) scale(0.5 0.5)" fill="#F39800"><ellipse rx="4.6" ry="7.1" transform="rotate(-22)"/><path d="M-19.8-14.5Q-20.5-18.5-17.2-18.3Q-15.8-18.1-15.3-17.2L-4.3 6.2Q-1 8.6 3.5 8.3Q11.6 9.5 11.6 16.5L11.6 39.5Q11.6 41.2 9.5 41.2Q7.4 41.2 7.4 39.5L7.4 19L6.8 19.3L6.8 68.5Q6.8 70.5 3.8 70.5Q0.8 70.5 0.8 68.5L0.8 44.5L-0.4 45L-0.4 72.5Q-0.4 74.5-3.3 74.5Q-6.2 74.5-6.2 72.5L-6.2 12.5L-7.6 11.6Z"/></g>
<polygon points="441.7,149.19 470.5,165.74 470.5,187.91 441.7,171.36" fill="#7C7C7C"/>
<polygon points="480.1,160.22 470.5,165.74 470.5,187.91 480.1,182.39" fill="#5E5E5E"/>
<polygon points="451.3,143.68 480.1,160.22 470.5,165.74 441.7,149.19" fill="#8C8C8C"/>
<polyline points="441.7,171.36 441.7,149.19 470.5,165.74 480.1,160.22" fill="none" stroke="#B89A64" stroke-width="0.2" stroke-opacity="0.8"/>
<line x1="470.5" y1="165.74" x2="470.5" y2="187.91" stroke="#B89A64" stroke-width="0.2" stroke-opacity="0.8"/>
<line x1="460.9" y1="149.19" x2="451.3" y2="154.7" stroke="#9A8C74" stroke-width="0.25" stroke-dasharray="1.4 0.9"/>
<line x1="470.5" y1="154.7" x2="460.9" y2="160.22" stroke="#9A8C74" stroke-width="0.25" stroke-dasharray="1.4 0.9"/>
<line x1="451.3" y1="154.7" x2="451.3" y2="176.88" stroke="#8E8270" stroke-width="0.25"/>
<line x1="460.9" y1="160.22" x2="460.9" y2="182.39" stroke="#8E8270" stroke-width="0.25"/>
<line x1="441.7" y1="160.28" x2="470.5" y2="176.82" stroke="#8E8270" stroke-width="0.25"/>
<line x1="480.1" y1="171.31" x2="470.5" y2="176.82" stroke="#7A6E5C" stroke-width="0.25"/>
<polygon points="453.22,160.02 458.98,163.33 458.98,170.2 453.22,166.89" fill="#231815"/>
<polygon points="489.7,176.76 518.5,193.31 518.5,215.48 489.7,198.94" fill="#7C7C7C"/>
<polygon points="528.1,187.8 518.5,193.31 518.5,215.48 528.1,209.97" fill="#5E5E5E"/>
<polygon points="499.3,171.25 528.1,187.8 518.5,193.31 489.7,176.76" fill="#8C8C8C"/>
<polyline points="489.7,198.94 489.7,176.76 518.5,193.31 528.1,187.8" fill="none" stroke="#B89A64" stroke-width="0.2" stroke-opacity="0.8"/>
<line x1="518.5" y1="193.31" x2="518.5" y2="215.48" stroke="#B89A64" stroke-width="0.2" stroke-opacity="0.8"/>
<line x1="508.9" y1="176.76" x2="499.3" y2="182.28" stroke="#9A8C74" stroke-width="0.25" stroke-dasharray="1.4 0.9"/>
<line x1="518.5" y1="182.28" x2="508.9" y2="187.8" stroke="#9A8C74" stroke-width="0.25" stroke-dasharray="1.4 0.9"/>
<line x1="499.3" y1="182.28" x2="499.3" y2="204.45" stroke="#8E8270" stroke-width="0.25"/>
<line x1="508.9" y1="187.8" x2="508.9" y2="209.97" stroke="#8E8270" stroke-width="0.25"/>
<line x1="489.7" y1="187.85" x2="518.5" y2="204.4" stroke="#8E8270" stroke-width="0.25"/>
<line x1="528.1" y1="198.88" x2="518.5" y2="204.4" stroke="#7A6E5C" stroke-width="0.25"/>
<polygon points="501.22,187.6 506.98,190.9 506.98,197.78 501.22,194.47" fill="#231815"/>
<g transform="translate(419.25 152.4) scale(0.5 0.5)" fill="#F39800"><ellipse rx="4.5" ry="7.2" transform="rotate(28)"/><path d="M-11.8 16.5Q-11.8 12.8-8.5 12.3L5.5 4.3Q8.5 2.3 10.3 2.9Q11.8 3.6 11.8 6.3L11.8 27Q11.8 28.8 9.3 28.8Q6.8 28.8 6.8 27L6.8 11.3L6.3 11.6L6.3 59.2Q6.3 61.2 3.5 61.2Q0.8 61.2 0.8 59.2L0.8 35L-0.4 35.6L-0.4 63Q-0.4 65-3.5 65Q-6.7 65-6.7 63L-6.7 19.8L-7.4 20.2L-7.4 38.2Q-7.4 40-9.6 40Q-11.8 40-11.8 38.2Z"/></g>
<g transform="translate(400.2 163.3) scale(0.5 0.5)" fill="#F39800"><ellipse rx="4.5" ry="7.2" transform="rotate(28)"/><path d="M-11.8 16.5Q-11.8 12.8-8.5 12.3L5.5 4.3Q8.5 2.3 10.3 2.9Q11.8 3.6 11.8 6.3L11.8 27Q11.8 28.8 9.3 28.8Q6.8 28.8 6.8 27L6.8 11.3L6.3 11.6L6.3 59.2Q6.3 61.2 3.5 61.2Q0.8 61.2 0.8 59.2L0.8 35L-0.4 35.6L-0.4 63Q-0.4 65-3.5 65Q-6.7 65-6.7 63L-6.7 19.8L-7.4 20.2L-7.4 38.2Q-7.4 40-9.6 40Q-11.8 40-11.8 38.2Z"/></g>
<polygon points="393.7,198.88 403.3,204.4 403.3,215.48 393.7,209.97" fill="#7C7C7C"/>
<polygon points="460.9,171.31 403.3,204.4 403.3,215.48 460.9,182.39" fill="#5E5E5E"/>
<polygon points="451.3,165.79 460.9,171.31 403.3,204.4 393.7,198.88" fill="#8C8C8C"/>
<polyline points="393.7,209.97 393.7,198.88 403.3,204.4 460.9,171.31" fill="none" stroke="#B89A64" stroke-width="0.2" stroke-opacity="0.8"/>
<line x1="403.3" y1="204.4" x2="403.3" y2="215.48" stroke="#B89A64" stroke-width="0.2" stroke-opacity="0.8"/>
<line x1="451.3" y1="176.82" x2="451.3" y2="187.91" stroke="#857657" stroke-width="0.25"/>
<line x1="441.7" y1="171.31" x2="451.3" y2="176.82" stroke="#9A8C74" stroke-width="0.25" stroke-dasharray="1.4 0.9"/>
<line x1="441.7" y1="182.34" x2="441.7" y2="193.42" stroke="#857657" stroke-width="0.25"/>
<line x1="432.1" y1="176.82" x2="441.7" y2="182.34" stroke="#9A8C74" stroke-width="0.25" stroke-dasharray="1.4 0.9"/>
<line x1="432.1" y1="187.85" x2="432.1" y2="198.94" stroke="#857657" stroke-width="0.25"/>
<line x1="422.5" y1="182.34" x2="432.1" y2="187.85" stroke="#9A8C74" stroke-width="0.25" stroke-dasharray="1.4 0.9"/>
<line x1="422.5" y1="193.37" x2="422.5" y2="204.45" stroke="#857657" stroke-width="0.25"/>
<line x1="412.9" y1="187.85" x2="422.5" y2="193.37" stroke="#9A8C74" stroke-width="0.25" stroke-dasharray="1.4 0.9"/>
<line x1="412.9" y1="198.88" x2="412.9" y2="209.97" stroke="#857657" stroke-width="0.25"/>
<line x1="403.3" y1="193.37" x2="412.9" y2="198.88" stroke="#9A8C74" stroke-width="0.25" stroke-dasharray="1.4 0.9"/>
<polygon points="398.69,193.45 403.3,196.1 403.3,201.42 398.69,198.77" fill="#7A7A7A"/>
<polygon points="407.91,193.45 403.3,196.1 403.3,201.42 407.91,198.77" fill="#5C5C5C"/>
<polygon points="403.3,190.8 407.91,193.45 403.3,196.1 398.69,193.45" fill="#8E8E8E"/>
<polyline points="398.69,198.77 398.69,193.45 403.3,196.1 407.91,193.45" fill="none" stroke="#B89A64" stroke-width="0.2" stroke-opacity="0.8"/>
<line x1="403.3" y1="196.1" x2="403.3" y2="201.42" stroke="#B89A64" stroke-width="0.2" stroke-opacity="0.8"/>
<polygon points="417.89,182.42 422.5,185.07 422.5,190.39 417.89,187.74" fill="#7A7A7A"/>
<polygon points="427.11,182.42 422.5,185.07 422.5,190.39 427.11,187.74" fill="#5C5C5C"/>
<polygon points="422.5,179.77 427.11,182.42 422.5,185.07 417.89,182.42" fill="#8E8E8E"/>
<polyline points="417.89,187.74 417.89,182.42 422.5,185.07 427.11,182.42" fill="none" stroke="#B89A64" stroke-width="0.2" stroke-opacity="0.8"/>
<line x1="422.5" y1="185.07" x2="422.5" y2="190.39" stroke="#B89A64" stroke-width="0.2" stroke-opacity="0.8"/>
<polygon points="437.09,171.39 441.7,174.04 441.7,179.36 437.09,176.71" fill="#7A7A7A"/>
<polygon points="446.31,171.39 441.7,174.04 441.7,179.36 446.31,176.71" fill="#5C5C5C"/>
<polygon points="441.7,168.74 446.31,171.39 441.7,174.04 437.09,171.39" fill="#8E8E8E"/>
<polyline points="437.09,176.71 437.09,171.39 441.7,174.04 446.31,171.39" fill="none" stroke="#B89A64" stroke-width="0.2" stroke-opacity="0.8"/>
<line x1="441.7" y1="174.04" x2="441.7" y2="179.36" stroke="#B89A64" stroke-width="0.2" stroke-opacity="0.8"/>
<g transform="translate(452.6 165.65) scale(0.5 0.5)" fill="#F39800"><ellipse rx="4.5" ry="7.2" transform="rotate(28)"/><path d="M-11.8 16.5Q-11.8 12.8-8.5 12.3L5.5 4.3Q8.5 2.3 10.3 2.9Q11.8 3.6 11.8 6.3L11.8 27Q11.8 28.8 9.3 28.8Q6.8 28.8 6.8 27L6.8 11.3L6.3 11.6L6.3 59.2Q6.3 61.2 3.5 61.2Q0.8 61.2 0.8 59.2L0.8 35L-0.4 35.6L-0.4 63Q-0.4 65-3.5 65Q-6.7 65-6.7 63L-6.7 19.8L-7.4 20.2L-7.4 38.2Q-7.4 40-9.6 40Q-11.8 40-11.8 38.2Z"/></g>
<g transform="translate(433.9 177.05) scale(0.5 0.5)" fill="#F39800"><ellipse rx="4.5" ry="7.2" transform="rotate(28)"/><path d="M-11.8 16.5Q-11.8 12.8-8.5 12.3L5.5 4.3Q8.5 2.3 10.3 2.9Q11.8 3.6 11.8 6.3L11.8 27Q11.8 28.8 9.3 28.8Q6.8 28.8 6.8 27L6.8 11.3L6.3 11.6L6.3 59.2Q6.3 61.2 3.5 61.2Q0.8 61.2 0.8 59.2L0.8 35L-0.4 35.6L-0.4 63Q-0.4 65-3.5 65Q-6.7 65-6.7 63L-6.7 19.8L-7.4 20.2L-7.4 38.2Q-7.4 40-9.6 40Q-11.8 40-11.8 38.2Z"/></g>
<g transform="translate(467.25 179.98) scale(0.5 0.5)" fill="#F39800"><ellipse rx="4.5" ry="7.2" transform="rotate(28)"/><path d="M-11.8 16.5Q-11.8 12.8-8.5 12.3L5.5 4.3Q8.5 2.3 10.3 2.9Q11.8 3.6 11.8 6.3L11.8 27Q11.8 28.8 9.3 28.8Q6.8 28.8 6.8 27L6.8 11.3L6.3 11.6L6.3 59.2Q6.3 61.2 3.5 61.2Q0.8 61.2 0.8 59.2L0.8 35L-0.4 35.6L-0.4 63Q-0.4 65-3.5 65Q-6.7 65-6.7 63L-6.7 19.8L-7.4 20.2L-7.4 38.2Q-7.4 40-9.6 40Q-11.8 40-11.8 38.2Z"/></g>
<g transform="translate(448.2 190.88) scale(0.5 0.5)" fill="#F39800"><ellipse rx="4.5" ry="7.2" transform="rotate(28)"/><path d="M-11.8 16.5Q-11.8 12.8-8.5 12.3L5.5 4.3Q8.5 2.3 10.3 2.9Q11.8 3.6 11.8 6.3L11.8 27Q11.8 28.8 9.3 28.8Q6.8 28.8 6.8 27L6.8 11.3L6.3 11.6L6.3 59.2Q6.3 61.2 3.5 61.2Q0.8 61.2 0.8 59.2L0.8 35L-0.4 35.6L-0.4 63Q-0.4 65-3.5 65Q-6.7 65-6.7 63L-6.7 19.8L-7.4 20.2L-7.4 38.2Q-7.4 40-9.6 40Q-11.8 40-11.8 38.2Z"/></g>
<polygon points="441.7,226.46 451.3,231.97 451.3,243.06 441.7,237.54" fill="#7C7C7C"/>
<polygon points="508.9,198.88 451.3,231.97 451.3,243.06 508.9,209.97" fill="#5E5E5E"/>
<polygon points="499.3,193.37 508.9,198.88 451.3,231.97 441.7,226.46" fill="#8C8C8C"/>
<polyline points="441.7,237.54 441.7,226.46 451.3,231.97 508.9,198.88" fill="none" stroke="#B89A64" stroke-width="0.2" stroke-opacity="0.8"/>
<line x1="451.3" y1="231.97" x2="451.3" y2="243.06" stroke="#B89A64" stroke-width="0.2" stroke-opacity="0.8"/>
<line x1="499.3" y1="204.4" x2="499.3" y2="215.48" stroke="#857657" stroke-width="0.25"/>
<line x1="489.7" y1="198.88" x2="499.3" y2="204.4" stroke="#9A8C74" stroke-width="0.25" stroke-dasharray="1.4 0.9"/>
<line x1="489.7" y1="209.91" x2="489.7" y2="221" stroke="#857657" stroke-width="0.25"/>
<line x1="480.1" y1="204.4" x2="489.7" y2="209.91" stroke="#9A8C74" stroke-width="0.25" stroke-dasharray="1.4 0.9"/>
<line x1="480.1" y1="215.42" x2="480.1" y2="226.51" stroke="#857657" stroke-width="0.25"/>
<line x1="470.5" y1="209.91" x2="480.1" y2="215.42" stroke="#9A8C74" stroke-width="0.25" stroke-dasharray="1.4 0.9"/>
<line x1="470.5" y1="220.94" x2="470.5" y2="232.03" stroke="#857657" stroke-width="0.25"/>
<line x1="460.9" y1="215.42" x2="470.5" y2="220.94" stroke="#9A8C74" stroke-width="0.25" stroke-dasharray="1.4 0.9"/>
<line x1="460.9" y1="226.46" x2="460.9" y2="237.54" stroke="#857657" stroke-width="0.25"/>
<line x1="451.3" y1="220.94" x2="460.9" y2="226.46" stroke="#9A8C74" stroke-width="0.25" stroke-dasharray="1.4 0.9"/>
<polygon points="446.69,221.02 451.3,223.67 451.3,228.99 446.69,226.34" fill="#7A7A7A"/>
<polygon points="455.91,221.02 451.3,223.67 451.3,228.99 455.91,226.34" fill="#5C5C5C"/>
<polygon points="451.3,218.38 455.91,221.02 451.3,223.67 446.69,221.02" fill="#8E8E8E"/>
<polyline points="446.69,226.34 446.69,221.02 451.3,223.67 455.91,221.02" fill="none" stroke="#B89A64" stroke-width="0.2" stroke-opacity="0.8"/>
<line x1="451.3" y1="223.67" x2="451.3" y2="228.99" stroke="#B89A64" stroke-width="0.2" stroke-opacity="0.8"/>
<polygon points="465.89,209.99 470.5,212.64 470.5,217.96 465.89,215.31" fill="#7A7A7A"/>
<polygon points="475.11,209.99 470.5,212.64 470.5,217.96 475.11,215.31" fill="#5C5C5C"/>
<polygon points="470.5,207.35 475.11,209.99 470.5,212.64 465.89,209.99" fill="#8E8E8E"/>
<polyline points="465.89,215.31 465.89,209.99 470.5,212.64 475.11,209.99" fill="none" stroke="#B89A64" stroke-width="0.2" stroke-opacity="0.8"/>
<line x1="470.5" y1="212.64" x2="470.5" y2="217.96" stroke="#B89A64" stroke-width="0.2" stroke-opacity="0.8"/>
<polygon points="485.09,198.96 489.7,201.61 489.7,206.93 485.09,204.28" fill="#7A7A7A"/>
<polygon points="494.31,198.96 489.7,201.61 489.7,206.93 494.31,204.28" fill="#5C5C5C"/>
<polygon points="489.7,196.32 494.31,198.96 489.7,201.61 485.09,198.96" fill="#8E8E8E"/>
<polyline points="485.09,204.28 485.09,198.96 489.7,201.61 494.31,198.96" fill="none" stroke="#B89A64" stroke-width="0.2" stroke-opacity="0.8"/>
<line x1="489.7" y1="201.61" x2="489.7" y2="206.93" stroke="#B89A64" stroke-width="0.2" stroke-opacity="0.8"/>
<g transform="translate(500.6 193.23) scale(0.5 0.5)" fill="#F39800"><ellipse rx="4.5" ry="7.2" transform="rotate(28)"/><path d="M-11.8 16.5Q-11.8 12.8-8.5 12.3L5.5 4.3Q8.5 2.3 10.3 2.9Q11.8 3.6 11.8 6.3L11.8 27Q11.8 28.8 9.3 28.8Q6.8 28.8 6.8 27L6.8 11.3L6.3 11.6L6.3 59.2Q6.3 61.2 3.5 61.2Q0.8 61.2 0.8 59.2L0.8 35L-0.4 35.6L-0.4 63Q-0.4 65-3.5 65Q-6.7 65-6.7 63L-6.7 19.8L-7.4 20.2L-7.4 38.2Q-7.4 40-9.6 40Q-11.8 40-11.8 38.2Z"/></g>
<g transform="translate(481.9 204.62) scale(0.5 0.5)" fill="#F39800"><ellipse rx="4.5" ry="7.2" transform="rotate(28)"/><path d="M-11.8 16.5Q-11.8 12.8-8.5 12.3L5.5 4.3Q8.5 2.3 10.3 2.9Q11.8 3.6 11.8 6.3L11.8 27Q11.8 28.8 9.3 28.8Q6.8 28.8 6.8 27L6.8 11.3L6.3 11.6L6.3 59.2Q6.3 61.2 3.5 61.2Q0.8 61.2 0.8 59.2L0.8 35L-0.4 35.6L-0.4 63Q-0.4 65-3.5 65Q-6.7 65-6.7 63L-6.7 19.8L-7.4 20.2L-7.4 38.2Q-7.4 40-9.6 40Q-11.8 40-11.8 38.2Z"/></g>
<polygon points="0,304.3 192,414.6 192,425.02 0,314.72" fill="#E3A42B"/>
<polygon points="384,304.3 192,414.6 192,425.02 384,314.72" fill="#A97B1F"/>
<polygon points="192,194 384,304.3 192,414.6 0,304.3" fill="#F8B62D"/>
<line x1="211.2" y1="205.03" x2="19.2" y2="315.33" stroke="#F6D08C" stroke-width="0.6" stroke-dasharray="1.4 0.9"/>
<line x1="172.8" y1="205.03" x2="364.8" y2="315.33" stroke="#F6D08C" stroke-width="0.6" stroke-dasharray="1.4 0.9"/>
<line x1="230.4" y1="216.06" x2="38.4" y2="326.36" stroke="#F6D08C" stroke-width="0.6" stroke-dasharray="1.4 0.9"/>
<line x1="153.6" y1="216.06" x2="345.6" y2="326.36" stroke="#F6D08C" stroke-width="0.6" stroke-dasharray="1.4 0.9"/>
<line x1="249.6" y1="227.09" x2="57.6" y2="337.39" stroke="#F6D08C" stroke-width="0.6" stroke-dasharray="1.4 0.9"/>
<line x1="134.4" y1="227.09" x2="326.4" y2="337.39" stroke="#F6D08C" stroke-width="0.6" stroke-dasharray="1.4 0.9"/>
<line x1="268.8" y1="238.12" x2="76.8" y2="348.42" stroke="#F6D08C" stroke-width="0.6" stroke-dasharray="1.4 0.9"/>
<line x1="115.2" y1="238.12" x2="307.2" y2="348.42" stroke="#F6D08C" stroke-width="0.6" stroke-dasharray="1.4 0.9"/>
<line x1="288" y1="249.15" x2="96" y2="359.45" stroke="#F6D08C" stroke-width="0.6" stroke-dasharray="1.4 0.9"/>
<line x1="96" y1="249.15" x2="288" y2="359.45" stroke="#F6D08C" stroke-width="0.6" stroke-dasharray="1.4 0.9"/>
<line x1="307.2" y1="260.18" x2="115.2" y2="370.48" stroke="#F6D08C" stroke-width="0.6" stroke-dasharray="1.4 0.9"/>
<line x1="76.8" y1="260.18" x2="268.8" y2="370.48" stroke="#F6D08C" stroke-width="0.6" stroke-dasharray="1.4 0.9"/>
<line x1="326.4" y1="271.21" x2="134.4" y2="381.51" stroke="#F6D08C" stroke-width="0.6" stroke-dasharray="1.4 0.9"/>
<line x1="57.6" y1="271.21" x2="249.6" y2="381.51" stroke="#F6D08C" stroke-width="0.6" stroke-dasharray="1.4 0.9"/>
<line x1="345.6" y1="282.24" x2="153.6" y2="392.54" stroke="#F6D08C" stroke-width="0.6" stroke-dasharray="1.4 0.9"/>
<line x1="38.4" y1="282.24" x2="230.4" y2="392.54" stroke="#F6D08C" stroke-width="0.6" stroke-dasharray="1.4 0.9"/>
<line x1="364.8" y1="293.27" x2="172.8" y2="403.57" stroke="#F6D08C" stroke-width="0.6" stroke-dasharray="1.4 0.9"/>
<line x1="19.2" y1="293.27" x2="211.2" y2="403.57" stroke="#F6D08C" stroke-width="0.6" stroke-dasharray="1.4 0.9"/>
<line x1="19.2" y1="315.33" x2="19.2" y2="325.75" stroke="#EFC572" stroke-width="0.6"/>
<line x1="364.8" y1="315.33" x2="364.8" y2="325.75" stroke="#EFC572" stroke-width="0.48"/>
<line x1="38.4" y1="326.36" x2="38.4" y2="336.78" stroke="#EFC572" stroke-width="0.6"/>
<line x1="345.6" y1="326.36" x2="345.6" y2="336.78" stroke="#EFC572" stroke-width="0.48"/>
<line x1="57.6" y1="337.39" x2="57.6" y2="347.81" stroke="#EFC572" stroke-width="0.6"/>
<line x1="326.4" y1="337.39" x2="326.4" y2="347.81" stroke="#EFC572" stroke-width="0.48"/>
<line x1="76.8" y1="348.42" x2="76.8" y2="358.84" stroke="#EFC572" stroke-width="0.6"/>
<line x1="307.2" y1="348.42" x2="307.2" y2="358.84" stroke="#EFC572" stroke-width="0.48"/>
<line x1="96" y1="359.45" x2="96" y2="369.87" stroke="#EFC572" stroke-width="0.6"/>
<line x1="288" y1="359.45" x2="288" y2="369.87" stroke="#EFC572" stroke-width="0.48"/>
<line x1="115.2" y1="370.48" x2="115.2" y2="380.9" stroke="#EFC572" stroke-width="0.6"/>
<line x1="268.8" y1="370.48" x2="268.8" y2="380.9" stroke="#EFC572" stroke-width="0.48"/>
<line x1="134.4" y1="381.51" x2="134.4" y2="391.93" stroke="#EFC572" stroke-width="0.6"/>
<line x1="249.6" y1="381.51" x2="249.6" y2="391.93" stroke="#EFC572" stroke-width="0.48"/>
<line x1="153.6" y1="392.54" x2="153.6" y2="402.96" stroke="#EFC572" stroke-width="0.6"/>
<line x1="230.4" y1="392.54" x2="230.4" y2="402.96" stroke="#EFC572" stroke-width="0.48"/>
<line x1="172.8" y1="403.57" x2="172.8" y2="413.99" stroke="#EFC572" stroke-width="0.6"/>
<line x1="211.2" y1="403.57" x2="211.2" y2="413.99" stroke="#EFC572" stroke-width="0.48"/>
<g transform="translate(227 170.5) scale(1 1)" fill="#F39800"><ellipse rx="4.6" ry="7.1" transform="rotate(-22)"/><path d="M-19.8-14.5Q-20.5-18.5-17.2-18.3Q-15.8-18.1-15.3-17.2L-4.3 6.2Q-1 8.6 3.5 8.3Q11.6 9.5 11.6 16.5L11.6 39.5Q11.6 41.2 9.5 41.2Q7.4 41.2 7.4 39.5L7.4 19L6.8 19.3L6.8 68.5Q6.8 70.5 3.8 70.5Q0.8 70.5 0.8 68.5L0.8 44.5L-0.4 45L-0.4 72.5Q-0.4 74.5-3.3 74.5Q-6.2 74.5-6.2 72.5L-6.2 12.5L-7.6 11.6Z"/></g>
<g transform="translate(323 225.65) scale(1 1)" fill="#F39800"><ellipse rx="4.6" ry="7.1" transform="rotate(-22)"/><path d="M-19.8-14.5Q-20.5-18.5-17.2-18.3Q-15.8-18.1-15.3-17.2L-4.3 6.2Q-1 8.6 3.5 8.3Q11.6 9.5 11.6 16.5L11.6 39.5Q11.6 41.2 9.5 41.2Q7.4 41.2 7.4 39.5L7.4 19L6.8 19.3L6.8 68.5Q6.8 70.5 3.8 70.5Q0.8 70.5 0.8 68.5L0.8 44.5L-0.4 45L-0.4 72.5Q-0.4 74.5-3.3 74.5Q-6.2 74.5-6.2 72.5L-6.2 12.5L-7.6 11.6Z"/></g>
<polygon points="153.6,193.78 211.2,226.87 211.2,271.21 153.6,238.12" fill="#7C7C7C"/>
<polygon points="230.4,215.84 211.2,226.87 211.2,271.21 230.4,260.18" fill="#5E5E5E"/>
<polygon points="172.8,182.75 230.4,215.84 211.2,226.87 153.6,193.78" fill="#8C8C8C"/>
<polyline points="153.6,238.12 153.6,193.78 211.2,226.87 230.4,215.84" fill="none" stroke="#B89A64" stroke-width="0.4" stroke-opacity="0.8"/>
<line x1="211.2" y1="226.87" x2="211.2" y2="271.21" stroke="#B89A64" stroke-width="0.4" stroke-opacity="0.8"/>
<line x1="192" y1="193.78" x2="172.8" y2="204.81" stroke="#9A8C74" stroke-width="0.5" stroke-dasharray="1.4 0.9"/>
<line x1="211.2" y1="204.81" x2="192" y2="215.84" stroke="#9A8C74" stroke-width="0.5" stroke-dasharray="1.4 0.9"/>
<line x1="172.8" y1="204.81" x2="172.8" y2="249.15" stroke="#8E8270" stroke-width="0.5"/>
<line x1="192" y1="215.84" x2="192" y2="260.18" stroke="#8E8270" stroke-width="0.5"/>
<line x1="153.6" y1="215.95" x2="211.2" y2="249.04" stroke="#8E8270" stroke-width="0.5"/>
<line x1="230.4" y1="238.01" x2="211.2" y2="249.04" stroke="#7A6E5C" stroke-width="0.5"/>
<polygon points="176.64,215.44 188.16,222.06 188.16,235.8 176.64,229.19" fill="#231815"/>
<polygon points="249.6,248.93 307.2,282.02 307.2,326.36 249.6,293.27" fill="#7C7C7C"/>
<polygon points="326.4,270.99 307.2,282.02 307.2,326.36 326.4,315.33" fill="#5E5E5E"/>
<polygon points="268.8,237.9 326.4,270.99 307.2,282.02 249.6,248.93" fill="#8C8C8C"/>
<polyline points="249.6,293.27 249.6,248.93 307.2,282.02 326.4,270.99" fill="none" stroke="#B89A64" stroke-width="0.4" stroke-opacity="0.8"/>
<line x1="307.2" y1="282.02" x2="307.2" y2="326.36" stroke="#B89A64" stroke-width="0.4" stroke-opacity="0.8"/>
<line x1="288" y1="248.93" x2="268.8" y2="259.96" stroke="#9A8C74" stroke-width="0.5" stroke-dasharray="1.4 0.9"/>
<line x1="307.2" y1="259.96" x2="288" y2="270.99" stroke="#9A8C74" stroke-width="0.5" stroke-dasharray="1.4 0.9"/>
<line x1="268.8" y1="259.96" x2="268.8" y2="304.3" stroke="#8E8270" stroke-width="0.5"/>
<line x1="288" y1="270.99" x2="288" y2="315.33" stroke="#8E8270" stroke-width="0.5"/>
<line x1="249.6" y1="271.1" x2="307.2" y2="304.19" stroke="#8E8270" stroke-width="0.5"/>
<line x1="326.4" y1="293.16" x2="307.2" y2="304.19" stroke="#7A6E5C" stroke-width="0.5"/>
<polygon points="272.64,270.59 284.16,277.21 284.16,290.95 272.64,284.34" fill="#231815"/>
<g transform="translate(108.7 200.2) scale(1 1)" fill="#F39800"><ellipse rx="4.5" ry="7.2" transform="rotate(28)"/><path d="M-11.8 16.5Q-11.8 12.8-8.5 12.3L5.5 4.3Q8.5 2.3 10.3 2.9Q11.8 3.6 11.8 6.3L11.8 27Q11.8 28.8 9.3 28.8Q6.8 28.8 6.8 27L6.8 11.3L6.3 11.6L6.3 59.2Q6.3 61.2 3.5 61.2Q0.8 61.2 0.8 59.2L0.8 35L-0.4 35.6L-0.4 63Q-0.4 65-3.5 65Q-6.7 65-6.7 63L-6.7 19.8L-7.4 20.2L-7.4 38.2Q-7.4 40-9.6 40Q-11.8 40-11.8 38.2Z"/></g>
<g transform="translate(70.6 222) scale(1 1)" fill="#F39800"><ellipse rx="4.5" ry="7.2" transform="rotate(28)"/><path d="M-11.8 16.5Q-11.8 12.8-8.5 12.3L5.5 4.3Q8.5 2.3 10.3 2.9Q11.8 3.6 11.8 6.3L11.8 27Q11.8 28.8 9.3 28.8Q6.8 28.8 6.8 27L6.8 11.3L6.3 11.6L6.3 59.2Q6.3 61.2 3.5 61.2Q0.8 61.2 0.8 59.2L0.8 35L-0.4 35.6L-0.4 63Q-0.4 65-3.5 65Q-6.7 65-6.7 63L-6.7 19.8L-7.4 20.2L-7.4 38.2Q-7.4 40-9.6 40Q-11.8 40-11.8 38.2Z"/></g>
<polygon points="57.6,293.16 76.8,304.19 76.8,326.36 57.6,315.33" fill="#7C7C7C"/>
<polygon points="192,238.01 76.8,304.19 76.8,326.36 192,260.18" fill="#5E5E5E"/>
<polygon points="172.8,226.98 192,238.01 76.8,304.19 57.6,293.16" fill="#8C8C8C"/>
<polyline points="57.6,315.33 57.6,293.16 76.8,304.19 192,238.01" fill="none" stroke="#B89A64" stroke-width="0.4" stroke-opacity="0.8"/>
<line x1="76.8" y1="304.19" x2="76.8" y2="326.36" stroke="#B89A64" stroke-width="0.4" stroke-opacity="0.8"/>
<line x1="172.8" y1="249.04" x2="172.8" y2="271.21" stroke="#857657" stroke-width="0.5"/>
<line x1="153.6" y1="238.01" x2="172.8" y2="249.04" stroke="#9A8C74" stroke-width="0.5" stroke-dasharray="1.4 0.9"/>
<line x1="153.6" y1="260.07" x2="153.6" y2="282.24" stroke="#857657" stroke-width="0.5"/>
<line x1="134.4" y1="249.04" x2="153.6" y2="260.07" stroke="#9A8C74" stroke-width="0.5" stroke-dasharray="1.4 0.9"/>
<line x1="134.4" y1="271.1" x2="134.4" y2="293.27" stroke="#857657" stroke-width="0.5"/>
<line x1="115.2" y1="260.07" x2="134.4" y2="271.1" stroke="#9A8C74" stroke-width="0.5" stroke-dasharray="1.4 0.9"/>
<line x1="115.2" y1="282.13" x2="115.2" y2="304.3" stroke="#857657" stroke-width="0.5"/>
<line x1="96" y1="271.1" x2="115.2" y2="282.13" stroke="#9A8C74" stroke-width="0.5" stroke-dasharray="1.4 0.9"/>
<line x1="96" y1="293.16" x2="96" y2="315.33" stroke="#857657" stroke-width="0.5"/>
<line x1="76.8" y1="282.13" x2="96" y2="293.16" stroke="#9A8C74" stroke-width="0.5" stroke-dasharray="1.4 0.9"/>
<polygon points="67.58,282.3 76.8,287.59 76.8,298.23 67.58,292.94" fill="#7A7A7A"/>
<polygon points="86.02,282.3 76.8,287.59 76.8,298.23 86.02,292.94" fill="#5C5C5C"/>
<polygon points="76.8,277 86.02,282.3 76.8,287.59 67.58,282.3" fill="#8E8E8E"/>
<polyline points="67.58,292.94 67.58,282.3 76.8,287.59 86.02,282.3" fill="none" stroke="#B89A64" stroke-width="0.4" stroke-opacity="0.8"/>
<line x1="76.8" y1="287.59" x2="76.8" y2="298.23" stroke="#B89A64" stroke-width="0.4" stroke-opacity="0.8"/>
<polygon points="105.98,260.24 115.2,265.53 115.2,276.17 105.98,270.88" fill="#7A7A7A"/>
<polygon points="124.42,260.24 115.2,265.53 115.2,276.17 124.42,270.88" fill="#5C5C5C"/>
<polygon points="115.2,254.94 124.42,260.24 115.2,265.53 105.98,260.24" fill="#8E8E8E"/>
<polyline points="105.98,270.88 105.98,260.24 115.2,265.53 124.42,260.24" fill="none" stroke="#B89A64" stroke-width="0.4" stroke-opacity="0.8"/>
<line x1="115.2" y1="265.53" x2="115.2" y2="276.17" stroke="#B89A64" stroke-width="0.4" stroke-opacity="0.8"/>
<polygon points="144.38,238.18 153.6,243.47 153.6,254.11 144.38,248.82" fill="#7A7A7A"/>
<polygon points="162.82,238.18 153.6,243.47 153.6,254.11 162.82,248.82" fill="#5C5C5C"/>
<polygon points="153.6,232.88 162.82,238.18 153.6,243.47 144.38,238.18" fill="#8E8E8E"/>
<polyline points="144.38,248.82 144.38,238.18 153.6,243.47 162.82,238.18" fill="none" stroke="#B89A64" stroke-width="0.4" stroke-opacity="0.8"/>
<line x1="153.6" y1="243.47" x2="153.6" y2="254.11" stroke="#B89A64" stroke-width="0.4" stroke-opacity="0.8"/>
<g transform="translate(175.4 226.7) scale(1 1)" fill="#F39800"><ellipse rx="4.5" ry="7.2" transform="rotate(28)"/><path d="M-11.8 16.5Q-11.8 12.8-8.5 12.3L5.5 4.3Q8.5 2.3 10.3 2.9Q11.8 3.6 11.8 6.3L11.8 27Q11.8 28.8 9.3 28.8Q6.8 28.8 6.8 27L6.8 11.3L6.3 11.6L6.3 59.2Q6.3 61.2 3.5 61.2Q0.8 61.2 0.8 59.2L0.8 35L-0.4 35.6L-0.4 63Q-0.4 65-3.5 65Q-6.7 65-6.7 63L-6.7 19.8L-7.4 20.2L-7.4 38.2Q-7.4 40-9.6 40Q-11.8 40-11.8 38.2Z"/></g>
<g transform="translate(138 249.5) scale(1 1)" fill="#F39800"><ellipse rx="4.5" ry="7.2" transform="rotate(28)"/><path d="M-11.8 16.5Q-11.8 12.8-8.5 12.3L5.5 4.3Q8.5 2.3 10.3 2.9Q11.8 3.6 11.8 6.3L11.8 27Q11.8 28.8 9.3 28.8Q6.8 28.8 6.8 27L6.8 11.3L6.3 11.6L6.3 59.2Q6.3 61.2 3.5 61.2Q0.8 61.2 0.8 59.2L0.8 35L-0.4 35.6L-0.4 63Q-0.4 65-3.5 65Q-6.7 65-6.7 63L-6.7 19.8L-7.4 20.2L-7.4 38.2Q-7.4 40-9.6 40Q-11.8 40-11.8 38.2Z"/></g>
<g transform="translate(204.7 255.35) scale(1 1)" fill="#F39800"><ellipse rx="4.5" ry="7.2" transform="rotate(28)"/><path d="M-11.8 16.5Q-11.8 12.8-8.5 12.3L5.5 4.3Q8.5 2.3 10.3 2.9Q11.8 3.6 11.8 6.3L11.8 27Q11.8 28.8 9.3 28.8Q6.8 28.8 6.8 27L6.8 11.3L6.3 11.6L6.3 59.2Q6.3 61.2 3.5 61.2Q0.8 61.2 0.8 59.2L0.8 35L-0.4 35.6L-0.4 63Q-0.4 65-3.5 65Q-6.7 65-6.7 63L-6.7 19.8L-7.4 20.2L-7.4 38.2Q-7.4 40-9.6 40Q-11.8 40-11.8 38.2Z"/></g>
<g transform="translate(166.6 277.15) scale(1 1)" fill="#F39800"><ellipse rx="4.5" ry="7.2" transform="rotate(28)"/><path d="M-11.8 16.5Q-11.8 12.8-8.5 12.3L5.5 4.3Q8.5 2.3 10.3 2.9Q11.8 3.6 11.8 6.3L11.8 27Q11.8 28.8 9.3 28.8Q6.8 28.8 6.8 27L6.8 11.3L6.3 11.6L6.3 59.2Q6.3 61.2 3.5 61.2Q0.8 61.2 0.8 59.2L0.8 35L-0.4 35.6L-0.4 63Q-0.4 65-3.5 65Q-6.7 65-6.7 63L-6.7 19.8L-7.4 20.2L-7.4 38.2Q-7.4 40-9.6 40Q-11.8 40-11.8 38.2Z"/></g>
<polygon points="153.6,348.31 172.8,359.34 172.8,381.51 153.6,370.48" fill="#7C7C7C"/>
<polygon points="288,293.16 172.8,359.34 172.8,381.51 288,315.33" fill="#5E5E5E"/>
<polygon points="268.8,282.13 288,293.16 172.8,359.34 153.6,348.31" fill="#8C8C8C"/>
<polyline points="153.6,370.48 153.6,348.31 172.8,359.34 288,293.16" fill="none" stroke="#B89A64" stroke-width="0.4" stroke-opacity="0.8"/>
<line x1="172.8" y1="359.34" x2="172.8" y2="381.51" stroke="#B89A64" stroke-width="0.4" stroke-opacity="0.8"/>
<line x1="268.8" y1="304.19" x2="268.8" y2="326.36" stroke="#857657" stroke-width="0.5"/>
<line x1="249.6" y1="293.16" x2="268.8" y2="304.19" stroke="#9A8C74" stroke-width="0.5" stroke-dasharray="1.4 0.9"/>
<line x1="249.6" y1="315.22" x2="249.6" y2="337.39" stroke="#857657" stroke-width="0.5"/>
<line x1="230.4" y1="304.19" x2="249.6" y2="315.22" stroke="#9A8C74" stroke-width="0.5" stroke-dasharray="1.4 0.9"/>
<line x1="230.4" y1="326.25" x2="230.4" y2="348.42" stroke="#857657" stroke-width="0.5"/>
<line x1="211.2" y1="315.22" x2="230.4" y2="326.25" stroke="#9A8C74" stroke-width="0.5" stroke-dasharray="1.4 0.9"/>
<line x1="211.2" y1="337.28" x2="211.2" y2="359.45" stroke="#857657" stroke-width="0.5"/>
<line x1="192" y1="326.25" x2="211.2" y2="337.28" stroke="#9A8C74" stroke-width="0.5" stroke-dasharray="1.4 0.9"/>
<line x1="192" y1="348.31" x2="192" y2="370.48" stroke="#857657" stroke-width="0.5"/>
<line x1="172.8" y1="337.28" x2="192" y2="348.31" stroke="#9A8C74" stroke-width="0.5" stroke-dasharray="1.4 0.9"/>
<polygon points="163.58,337.45 172.8,342.74 172.8,353.38 163.58,348.09" fill="#7A7A7A"/>
<polygon points="182.02,337.45 172.8,342.74 172.8,353.38 182.02,348.09" fill="#5C5C5C"/>
<polygon points="172.8,332.15 182.02,337.45 172.8,342.74 163.58,337.45" fill="#8E8E8E"/>
<polyline points="163.58,348.09 163.58,337.45 172.8,342.74 182.02,337.45" fill="none" stroke="#B89A64" stroke-width="0.4" stroke-opacity="0.8"/>
<line x1="172.8" y1="342.74" x2="172.8" y2="353.38" stroke="#B89A64" stroke-width="0.4" stroke-opacity="0.8"/>
<polygon points="201.98,315.39 211.2,320.68 211.2,331.32 201.98,326.03" fill="#7A7A7A"/>
<polygon points="220.42,315.39 211.2,320.68 211.2,331.32 220.42,326.03" fill="#5C5C5C"/>
<polygon points="211.2,310.09 220.42,315.39 211.2,320.68 201.98,315.39" fill="#8E8E8E"/>
<polyline points="201.98,326.03 201.98,315.39 211.2,320.68 220.42,315.39" fill="none" stroke="#B89A64" stroke-width="0.4" stroke-opacity="0.8"/>
<line x1="211.2" y1="320.68" x2="211.2" y2="331.32" stroke="#B89A64" stroke-width="0.4" stroke-opacity="0.8"/>
<polygon points="240.38,293.33 249.6,298.62 249.6,309.26 240.38,303.97" fill="#7A7A7A"/>
<polygon points="258.82,293.33 249.6,298.62 249.6,309.26 258.82,303.97" fill="#5C5C5C"/>
<polygon points="249.6,288.03 258.82,293.33 249.6,298.62 240.38,293.33" fill="#8E8E8E"/>
<polyline points="240.38,303.97 240.38,293.33 249.6,298.62 258.82,293.33" fill="none" stroke="#B89A64" stroke-width="0.4" stroke-opacity="0.8"/>
<line x1="249.6" y1="298.62" x2="249.6" y2="309.26" stroke="#B89A64" stroke-width="0.4" stroke-opacity="0.8"/>
<g transform="translate(271.4 281.85) scale(1 1)" fill="#F39800"><ellipse rx="4.5" ry="7.2" transform="rotate(28)"/><path d="M-11.8 16.5Q-11.8 12.8-8.5 12.3L5.5 4.3Q8.5 2.3 10.3 2.9Q11.8 3.6 11.8 6.3L11.8 27Q11.8 28.8 9.3 28.8Q6.8 28.8 6.8 27L6.8 11.3L6.3 11.6L6.3 59.2Q6.3 61.2 3.5 61.2Q0.8 61.2 0.8 59.2L0.8 35L-0.4 35.6L-0.4 63Q-0.4 65-3.5 65Q-6.7 65-6.7 63L-6.7 19.8L-7.4 20.2L-7.4 38.2Q-7.4 40-9.6 40Q-11.8 40-11.8 38.2Z"/></g>
<g transform="translate(234 304.65) scale(1 1)" fill="#F39800"><ellipse rx="4.5" ry="7.2" transform="rotate(28)"/><path d="M-11.8 16.5Q-11.8 12.8-8.5 12.3L5.5 4.3Q8.5 2.3 10.3 2.9Q11.8 3.6 11.8 6.3L11.8 27Q11.8 28.8 9.3 28.8Q6.8 28.8 6.8 27L6.8 11.3L6.3 11.6L6.3 59.2Q6.3 61.2 3.5 61.2Q0.8 61.2 0.8 59.2L0.8 35L-0.4 35.6L-0.4 63Q-0.4 65-3.5 65Q-6.7 65-6.7 63L-6.7 19.8L-7.4 20.2L-7.4 38.2Q-7.4 40-9.6 40Q-11.8 40-11.8 38.2Z"/></g>
<polygon points="538.2,304.3 634.2,359.45 634.2,369.87 538.2,314.72" fill="#E3A42B"/>
<polygon points="634.2,359.45 730.2,414.6 730.2,425.02 634.2,369.87" fill="#CACBCB"/>
<polygon points="922.2,304.3 730.2,414.6 730.2,425.02 922.2,314.72" fill="#A3A4A4"/>
<polygon points="730.2,194 826.2,249.15 634.2,359.45 538.2,304.3" fill="#F8B62D"/>
<polygon points="826.2,249.15 922.2,304.3 730.2,414.6 634.2,359.45" fill="#DCDDDD"/>
<line x1="749.4" y1="205.03" x2="557.4" y2="315.33" stroke="#F6D08C" stroke-width="0.6" stroke-dasharray="1.4 0.9"/>
<line x1="711" y1="205.03" x2="807" y2="260.18" stroke="#F6D08C" stroke-width="0.6" stroke-dasharray="1.4 0.9"/>
<line x1="807" y1="260.18" x2="903" y2="315.33" stroke="#C7C8C8" stroke-width="0.6" stroke-dasharray="1.4 0.9"/>
<line x1="768.6" y1="216.06" x2="576.6" y2="326.36" stroke="#F6D08C" stroke-width="0.6" stroke-dasharray="1.4 0.9"/>
<line x1="691.8" y1="216.06" x2="787.8" y2="271.21" stroke="#F6D08C" stroke-width="0.6" stroke-dasharray="1.4 0.9"/>
<line x1="787.8" y1="271.21" x2="883.8" y2="326.36" stroke="#C7C8C8" stroke-width="0.6" stroke-dasharray="1.4 0.9"/>
<line x1="787.8" y1="227.09" x2="595.8" y2="337.39" stroke="#F6D08C" stroke-width="0.6" stroke-dasharray="1.4 0.9"/>
<line x1="672.6" y1="227.09" x2="768.6" y2="282.24" stroke="#F6D08C" stroke-width="0.6" stroke-dasharray="1.4 0.9"/>
<line x1="768.6" y1="282.24" x2="864.6" y2="337.39" stroke="#C7C8C8" stroke-width="0.6" stroke-dasharray="1.4 0.9"/>
<line x1="807" y1="238.12" x2="615" y2="348.42" stroke="#F6D08C" stroke-width="0.6" stroke-dasharray="1.4 0.9"/>
<line x1="653.4" y1="238.12" x2="749.4" y2="293.27" stroke="#F6D08C" stroke-width="0.6" stroke-dasharray="1.4 0.9"/>
<line x1="749.4" y1="293.27" x2="845.4" y2="348.42" stroke="#C7C8C8" stroke-width="0.6" stroke-dasharray="1.4 0.9"/>
<line x1="826.2" y1="249.15" x2="634.2" y2="359.45" stroke="#C7C8C8" stroke-width="0.6" stroke-dasharray="1.4 0.9"/>
<line x1="634.2" y1="249.15" x2="730.2" y2="304.3" stroke="#F6D08C" stroke-width="0.6" stroke-dasharray="1.4 0.9"/>
<line x1="730.2" y1="304.3" x2="826.2" y2="359.45" stroke="#C7C8C8" stroke-width="0.6" stroke-dasharray="1.4 0.9"/>
<line x1="845.4" y1="260.18" x2="653.4" y2="370.48" stroke="#C7C8C8" stroke-width="0.6" stroke-dasharray="1.4 0.9"/>
<line x1="615" y1="260.18" x2="711" y2="315.33" stroke="#F6D08C" stroke-width="0.6" stroke-dasharray="1.4 0.9"/>
<line x1="711" y1="315.33" x2="807" y2="370.48" stroke="#C7C8C8" stroke-width="0.6" stroke-dasharray="1.4 0.9"/>
<line x1="864.6" y1="271.21" x2="672.6" y2="381.51" stroke="#C7C8C8" stroke-width="0.6" stroke-dasharray="1.4 0.9"/>
<line x1="595.8" y1="271.21" x2="691.8" y2="326.36" stroke="#F6D08C" stroke-width="0.6" stroke-dasharray="1.4 0.9"/>
<line x1="691.8" y1="326.36" x2="787.8" y2="381.51" stroke="#C7C8C8" stroke-width="0.6" stroke-dasharray="1.4 0.9"/>
<line x1="883.8" y1="282.24" x2="691.8" y2="392.54" stroke="#C7C8C8" stroke-width="0.6" stroke-dasharray="1.4 0.9"/>
<line x1="576.6" y1="282.24" x2="672.6" y2="337.39" stroke="#F6D08C" stroke-width="0.6" stroke-dasharray="1.4 0.9"/>
<line x1="672.6" y1="337.39" x2="768.6" y2="392.54" stroke="#C7C8C8" stroke-width="0.6" stroke-dasharray="1.4 0.9"/>
<line x1="903" y1="293.27" x2="711" y2="403.57" stroke="#C7C8C8" stroke-width="0.6" stroke-dasharray="1.4 0.9"/>
<line x1="557.4" y1="293.27" x2="653.4" y2="348.42" stroke="#F6D08C" stroke-width="0.6" stroke-dasharray="1.4 0.9"/>
<line x1="653.4" y1="348.42" x2="749.4" y2="403.57" stroke="#C7C8C8" stroke-width="0.6" stroke-dasharray="1.4 0.9"/>
<line x1="557.4" y1="315.33" x2="557.4" y2="325.75" stroke="#EFC572" stroke-width="0.6"/>
<line x1="903" y1="315.33" x2="903" y2="325.75" stroke="#E6E6E6" stroke-width="0.48"/>
<line x1="576.6" y1="326.36" x2="576.6" y2="336.78" stroke="#EFC572" stroke-width="0.6"/>
<line x1="883.8" y1="326.36" x2="883.8" y2="336.78" stroke="#E6E6E6" stroke-width="0.48"/>
<line x1="595.8" y1="337.39" x2="595.8" y2="347.81" stroke="#EFC572" stroke-width="0.6"/>
<line x1="864.6" y1="337.39" x2="864.6" y2="347.81" stroke="#E6E6E6" stroke-width="0.48"/>
<line x1="615" y1="348.42" x2="615" y2="358.84" stroke="#EFC572" stroke-width="0.6"/>
<line x1="845.4" y1="348.42" x2="845.4" y2="358.84" stroke="#E6E6E6" stroke-width="0.48"/>
<line x1="634.2" y1="359.45" x2="634.2" y2="369.87" stroke="#E6E6E6" stroke-width="0.6"/>
<line x1="826.2" y1="359.45" x2="826.2" y2="369.87" stroke="#E6E6E6" stroke-width="0.48"/>
<line x1="653.4" y1="370.48" x2="653.4" y2="380.9" stroke="#E6E6E6" stroke-width="0.6"/>
<line x1="807" y1="370.48" x2="807" y2="380.9" stroke="#E6E6E6" stroke-width="0.48"/>
<line x1="672.6" y1="381.51" x2="672.6" y2="391.93" stroke="#E6E6E6" stroke-width="0.6"/>
<line x1="787.8" y1="381.51" x2="787.8" y2="391.93" stroke="#E6E6E6" stroke-width="0.48"/>
<line x1="691.8" y1="392.54" x2="691.8" y2="402.96" stroke="#E6E6E6" stroke-width="0.6"/>
<line x1="768.6" y1="392.54" x2="768.6" y2="402.96" stroke="#E6E6E6" stroke-width="0.48"/>
<line x1="711" y1="403.57" x2="711" y2="413.99" stroke="#E6E6E6" stroke-width="0.6"/>
<line x1="749.4" y1="403.57" x2="749.4" y2="413.99" stroke="#E6E6E6" stroke-width="0.48"/>
<g transform="translate(765.2 170.5) scale(1 1)" fill="#F39800"><ellipse rx="4.6" ry="7.1" transform="rotate(-22)"/><path d="M-19.8-14.5Q-20.5-18.5-17.2-18.3Q-15.8-18.1-15.3-17.2L-4.3 6.2Q-1 8.6 3.5 8.3Q11.6 9.5 11.6 16.5L11.6 39.5Q11.6 41.2 9.5 41.2Q7.4 41.2 7.4 39.5L7.4 19L6.8 19.3L6.8 68.5Q6.8 70.5 3.8 70.5Q0.8 70.5 0.8 68.5L0.8 44.5L-0.4 45L-0.4 72.5Q-0.4 74.5-3.3 74.5Q-6.2 74.5-6.2 72.5L-6.2 12.5L-7.6 11.6Z"/></g>
<g transform="translate(861.2 225.65) scale(1 1)" fill="#22B2E7"><ellipse rx="4.6" ry="7.1" transform="rotate(-22)"/><path d="M-19.8-14.5Q-20.5-18.5-17.2-18.3Q-15.8-18.1-15.3-17.2L-4.3 6.2Q-1 8.6 3.5 8.3Q11.6 9.5 11.6 16.5L11.6 39.5Q11.6 41.2 9.5 41.2Q7.4 41.2 7.4 39.5L7.4 19L6.8 19.3L6.8 68.5Q6.8 70.5 3.8 70.5Q0.8 70.5 0.8 68.5L0.8 44.5L-0.4 45L-0.4 72.5Q-0.4 74.5-3.3 74.5Q-6.2 74.5-6.2 72.5L-6.2 12.5L-7.6 11.6Z"/></g>
<polygon points="691.8,193.78 749.4,226.87 749.4,271.21 691.8,238.12" fill="#7C7C7C"/>
<polygon points="768.6,215.84 749.4,226.87 749.4,271.21 768.6,260.18" fill="#5E5E5E"/>
<polygon points="711,182.75 768.6,215.84 749.4,226.87 691.8,193.78" fill="#8C8C8C"/>
<polyline points="691.8,238.12 691.8,193.78 749.4,226.87 768.6,215.84" fill="none" stroke="#B89A64" stroke-width="0.4" stroke-opacity="0.8"/>
<line x1="749.4" y1="226.87" x2="749.4" y2="271.21" stroke="#B89A64" stroke-width="0.4" stroke-opacity="0.8"/>
<line x1="730.2" y1="193.78" x2="711" y2="204.81" stroke="#9A8C74" stroke-width="0.5" stroke-dasharray="1.4 0.9"/>
<line x1="749.4" y1="204.81" x2="730.2" y2="215.84" stroke="#9A8C74" stroke-width="0.5" stroke-dasharray="1.4 0.9"/>
<line x1="711" y1="204.81" x2="711" y2="249.15" stroke="#8E8270" stroke-width="0.5"/>
<line x1="730.2" y1="215.84" x2="730.2" y2="260.18" stroke="#8E8270" stroke-width="0.5"/>
<line x1="691.8" y1="215.95" x2="749.4" y2="249.04" stroke="#8E8270" stroke-width="0.5"/>
<line x1="768.6" y1="238.01" x2="749.4" y2="249.04" stroke="#7A6E5C" stroke-width="0.5"/>
<polygon points="714.84,215.44 726.36,222.06 726.36,235.8 714.84,229.19" fill="#231815"/>
<polygon points="787.8,248.93 845.4,282.02 845.4,326.36 787.8,293.27" fill="#7C7C7C"/>
<polygon points="864.6,270.99 845.4,282.02 845.4,326.36 864.6,315.33" fill="#5E5E5E"/>
<polygon points="807,237.9 864.6,270.99 845.4,282.02 787.8,248.93" fill="#8C8C8C"/>
<polyline points="787.8,293.27 787.8,248.93 845.4,282.02 864.6,270.99" fill="none" stroke="#B89A64" stroke-width="0.4" stroke-opacity="0.8"/>
<line x1="845.4" y1="282.02" x2="845.4" y2="326.36" stroke="#B89A64" stroke-width="0.4" stroke-opacity="0.8"/>
<line x1="826.2" y1="248.93" x2="807" y2="259.96" stroke="#9A8C74" stroke-width="0.5" stroke-dasharray="1.4 0.9"/>
<line x1="845.4" y1="259.96" x2="826.2" y2="270.99" stroke="#9A8C74" stroke-width="0.5" stroke-dasharray="1.4 0.9"/>
<line x1="807" y1="259.96" x2="807" y2="304.3" stroke="#8E8270" stroke-width="0.5"/>
<line x1="826.2" y1="270.99" x2="826.2" y2="315.33" stroke="#8E8270" stroke-width="0.5"/>
<line x1="787.8" y1="271.1" x2="845.4" y2="304.19" stroke="#8E8270" stroke-width="0.5"/>
<line x1="864.6" y1="293.16" x2="845.4" y2="304.19" stroke="#7A6E5C" stroke-width="0.5"/>
<polygon points="810.84,270.59 822.36,277.21 822.36,290.95 810.84,284.34" fill="#231815"/>
<g transform="translate(646.9 200.2) scale(1 1)" fill="#F39800"><ellipse rx="4.5" ry="7.2" transform="rotate(28)"/><path d="M-11.8 16.5Q-11.8 12.8-8.5 12.3L5.5 4.3Q8.5 2.3 10.3 2.9Q11.8 3.6 11.8 6.3L11.8 27Q11.8 28.8 9.3 28.8Q6.8 28.8 6.8 27L6.8 11.3L6.3 11.6L6.3 59.2Q6.3 61.2 3.5 61.2Q0.8 61.2 0.8 59.2L0.8 35L-0.4 35.6L-0.4 63Q-0.4 65-3.5 65Q-6.7 65-6.7 63L-6.7 19.8L-7.4 20.2L-7.4 38.2Q-7.4 40-9.6 40Q-11.8 40-11.8 38.2Z"/></g>
<g transform="translate(608.8 222) scale(1 1)" fill="#F39800"><ellipse rx="4.5" ry="7.2" transform="rotate(28)"/><path d="M-11.8 16.5Q-11.8 12.8-8.5 12.3L5.5 4.3Q8.5 2.3 10.3 2.9Q11.8 3.6 11.8 6.3L11.8 27Q11.8 28.8 9.3 28.8Q6.8 28.8 6.8 27L6.8 11.3L6.3 11.6L6.3 59.2Q6.3 61.2 3.5 61.2Q0.8 61.2 0.8 59.2L0.8 35L-0.4 35.6L-0.4 63Q-0.4 65-3.5 65Q-6.7 65-6.7 63L-6.7 19.8L-7.4 20.2L-7.4 38.2Q-7.4 40-9.6 40Q-11.8 40-11.8 38.2Z"/></g>
<polygon points="595.8,293.16 615,304.19 615,326.36 595.8,315.33" fill="#7C7C7C"/>
<polygon points="730.2,238.01 615,304.19 615,326.36 730.2,260.18" fill="#5E5E5E"/>
<polygon points="711,226.98 730.2,238.01 615,304.19 595.8,293.16" fill="#8C8C8C"/>
<polyline points="595.8,315.33 595.8,293.16 615,304.19 730.2,238.01" fill="none" stroke="#B89A64" stroke-width="0.4" stroke-opacity="0.8"/>
<line x1="615" y1="304.19" x2="615" y2="326.36" stroke="#B89A64" stroke-width="0.4" stroke-opacity="0.8"/>
<line x1="711" y1="249.04" x2="711" y2="271.21" stroke="#857657" stroke-width="0.5"/>
<line x1="691.8" y1="238.01" x2="711" y2="249.04" stroke="#9A8C74" stroke-width="0.5" stroke-dasharray="1.4 0.9"/>
<line x1="691.8" y1="260.07" x2="691.8" y2="282.24" stroke="#857657" stroke-width="0.5"/>
<line x1="672.6" y1="249.04" x2="691.8" y2="260.07" stroke="#9A8C74" stroke-width="0.5" stroke-dasharray="1.4 0.9"/>
<line x1="672.6" y1="271.1" x2="672.6" y2="293.27" stroke="#857657" stroke-width="0.5"/>
<line x1="653.4" y1="260.07" x2="672.6" y2="271.1" stroke="#9A8C74" stroke-width="0.5" stroke-dasharray="1.4 0.9"/>
<line x1="653.4" y1="282.13" x2="653.4" y2="304.3" stroke="#857657" stroke-width="0.5"/>
<line x1="634.2" y1="271.1" x2="653.4" y2="282.13" stroke="#9A8C74" stroke-width="0.5" stroke-dasharray="1.4 0.9"/>
<line x1="634.2" y1="293.16" x2="634.2" y2="315.33" stroke="#857657" stroke-width="0.5"/>
<line x1="615" y1="282.13" x2="634.2" y2="293.16" stroke="#9A8C74" stroke-width="0.5" stroke-dasharray="1.4 0.9"/>
<polygon points="605.78,282.3 615,287.59 615,298.23 605.78,292.94" fill="#7A7A7A"/>
<polygon points="624.22,282.3 615,287.59 615,298.23 624.22,292.94" fill="#5C5C5C"/>
<polygon points="615,277 624.22,282.3 615,287.59 605.78,282.3" fill="#8E8E8E"/>
<polyline points="605.78,292.94 605.78,282.3 615,287.59 624.22,282.3" fill="none" stroke="#B89A64" stroke-width="0.4" stroke-opacity="0.8"/>
<line x1="615" y1="287.59" x2="615" y2="298.23" stroke="#B89A64" stroke-width="0.4" stroke-opacity="0.8"/>
<polygon points="644.18,260.24 653.4,265.53 653.4,276.17 644.18,270.88" fill="#7A7A7A"/>
<polygon points="662.62,260.24 653.4,265.53 653.4,276.17 662.62,270.88" fill="#5C5C5C"/>
<polygon points="653.4,254.94 662.62,260.24 653.4,265.53 644.18,260.24" fill="#8E8E8E"/>
<polyline points="644.18,270.88 644.18,260.24 653.4,265.53 662.62,260.24" fill="none" stroke="#B89A64" stroke-width="0.4" stroke-opacity="0.8"/>
<line x1="653.4" y1="265.53" x2="653.4" y2="276.17" stroke="#B89A64" stroke-width="0.4" stroke-opacity="0.8"/>
<polygon points="682.58,238.18 691.8,243.47 691.8,254.11 682.58,248.82" fill="#7A7A7A"/>
<polygon points="701.02,238.18 691.8,243.47 691.8,254.11 701.02,248.82" fill="#5C5C5C"/>
<polygon points="691.8,232.88 701.02,238.18 691.8,243.47 682.58,238.18" fill="#8E8E8E"/>
<polyline points="682.58,248.82 682.58,238.18 691.8,243.47 701.02,238.18" fill="none" stroke="#B89A64" stroke-width="0.4" stroke-opacity="0.8"/>
<line x1="691.8" y1="243.47" x2="691.8" y2="254.11" stroke="#B89A64" stroke-width="0.4" stroke-opacity="0.8"/>
<g transform="translate(713.6 226.7) scale(1 1)" fill="#F39800"><ellipse rx="4.5" ry="7.2" transform="rotate(28)"/><path d="M-11.8 16.5Q-11.8 12.8-8.5 12.3L5.5 4.3Q8.5 2.3 10.3 2.9Q11.8 3.6 11.8 6.3L11.8 27Q11.8 28.8 9.3 28.8Q6.8 28.8 6.8 27L6.8 11.3L6.3 11.6L6.3 59.2Q6.3 61.2 3.5 61.2Q0.8 61.2 0.8 59.2L0.8 35L-0.4 35.6L-0.4 63Q-0.4 65-3.5 65Q-6.7 65-6.7 63L-6.7 19.8L-7.4 20.2L-7.4 38.2Q-7.4 40-9.6 40Q-11.8 40-11.8 38.2Z"/></g>
<g transform="translate(676.2 249.5) scale(1 1)" fill="#F39800"><ellipse rx="4.5" ry="7.2" transform="rotate(28)"/><path d="M-11.8 16.5Q-11.8 12.8-8.5 12.3L5.5 4.3Q8.5 2.3 10.3 2.9Q11.8 3.6 11.8 6.3L11.8 27Q11.8 28.8 9.3 28.8Q6.8 28.8 6.8 27L6.8 11.3L6.3 11.6L6.3 59.2Q6.3 61.2 3.5 61.2Q0.8 61.2 0.8 59.2L0.8 35L-0.4 35.6L-0.4 63Q-0.4 65-3.5 65Q-6.7 65-6.7 63L-6.7 19.8L-7.4 20.2L-7.4 38.2Q-7.4 40-9.6 40Q-11.8 40-11.8 38.2Z"/></g>
<g transform="translate(742.9 255.35) scale(1 1)" fill="#22B2E7"><ellipse rx="4.5" ry="7.2" transform="rotate(28)"/><path d="M-11.8 16.5Q-11.8 12.8-8.5 12.3L5.5 4.3Q8.5 2.3 10.3 2.9Q11.8 3.6 11.8 6.3L11.8 27Q11.8 28.8 9.3 28.8Q6.8 28.8 6.8 27L6.8 11.3L6.3 11.6L6.3 59.2Q6.3 61.2 3.5 61.2Q0.8 61.2 0.8 59.2L0.8 35L-0.4 35.6L-0.4 63Q-0.4 65-3.5 65Q-6.7 65-6.7 63L-6.7 19.8L-7.4 20.2L-7.4 38.2Q-7.4 40-9.6 40Q-11.8 40-11.8 38.2Z"/></g>
<g transform="translate(704.8 277.15) scale(1 1)" fill="#22B2E7"><ellipse rx="4.5" ry="7.2" transform="rotate(28)"/><path d="M-11.8 16.5Q-11.8 12.8-8.5 12.3L5.5 4.3Q8.5 2.3 10.3 2.9Q11.8 3.6 11.8 6.3L11.8 27Q11.8 28.8 9.3 28.8Q6.8 28.8 6.8 27L6.8 11.3L6.3 11.6L6.3 59.2Q6.3 61.2 3.5 61.2Q0.8 61.2 0.8 59.2L0.8 35L-0.4 35.6L-0.4 63Q-0.4 65-3.5 65Q-6.7 65-6.7 63L-6.7 19.8L-7.4 20.2L-7.4 38.2Q-7.4 40-9.6 40Q-11.8 40-11.8 38.2Z"/></g>
<polygon points="691.8,348.31 711,359.34 711,381.51 691.8,370.48" fill="#7C7C7C"/>
<polygon points="826.2,293.16 711,359.34 711,381.51 826.2,315.33" fill="#5E5E5E"/>
<polygon points="807,282.13 826.2,293.16 711,359.34 691.8,348.31" fill="#8C8C8C"/>
<polyline points="691.8,370.48 691.8,348.31 711,359.34 826.2,293.16" fill="none" stroke="#B89A64" stroke-width="0.4" stroke-opacity="0.8"/>
<line x1="711" y1="359.34" x2="711" y2="381.51" stroke="#B89A64" stroke-width="0.4" stroke-opacity="0.8"/>
<line x1="807" y1="304.19" x2="807" y2="326.36" stroke="#857657" stroke-width="0.5"/>
<line x1="787.8" y1="293.16" x2="807" y2="304.19" stroke="#9A8C74" stroke-width="0.5" stroke-dasharray="1.4 0.9"/>
<line x1="787.8" y1="315.22" x2="787.8" y2="337.39" stroke="#857657" stroke-width="0.5"/>
<line x1="768.6" y1="304.19" x2="787.8" y2="315.22" stroke="#9A8C74" stroke-width="0.5" stroke-dasharray="1.4 0.9"/>
<line x1="768.6" y1="326.25" x2="768.6" y2="348.42" stroke="#857657" stroke-width="0.5"/>
<line x1="749.4" y1="315.22" x2="768.6" y2="326.25" stroke="#9A8C74" stroke-width="0.5" stroke-dasharray="1.4 0.9"/>
<line x1="749.4" y1="337.28" x2="749.4" y2="359.45" stroke="#857657" stroke-width="0.5"/>
<line x1="730.2" y1="326.25" x2="749.4" y2="337.28" stroke="#9A8C74" stroke-width="0.5" stroke-dasharray="1.4 0.9"/>
<line x1="730.2" y1="348.31" x2="730.2" y2="370.48" stroke="#857657" stroke-width="0.5"/>
<line x1="711" y1="337.28" x2="730.2" y2="348.31" stroke="#9A8C74" stroke-width="0.5" stroke-dasharray="1.4 0.9"/>
<polygon points="701.78,337.45 711,342.74 711,353.38 701.78,348.09" fill="#7A7A7A"/>
<polygon points="720.22,337.45 711,342.74 711,353.38 720.22,348.09" fill="#5C5C5C"/>
<polygon points="711,332.15 720.22,337.45 711,342.74 701.78,337.45" fill="#8E8E8E"/>
<polyline points="701.78,348.09 701.78,337.45 711,342.74 720.22,337.45" fill="none" stroke="#B89A64" stroke-width="0.4" stroke-opacity="0.8"/>
<line x1="711" y1="342.74" x2="711" y2="353.38" stroke="#B89A64" stroke-width="0.4" stroke-opacity="0.8"/>
<polygon points="740.18,315.39 749.4,320.68 749.4,331.32 740.18,326.03" fill="#7A7A7A"/>
<polygon points="758.62,315.39 749.4,320.68 749.4,331.32 758.62,326.03" fill="#5C5C5C"/>
<polygon points="749.4,310.09 758.62,315.39 749.4,320.68 740.18,315.39" fill="#8E8E8E"/>
<polyline points="740.18,326.03 740.18,315.39 749.4,320.68 758.62,315.39" fill="none" stroke="#B89A64" stroke-width="0.4" stroke-opacity="0.8"/>
<line x1="749.4" y1="320.68" x2="749.4" y2="331.32" stroke="#B89A64" stroke-width="0.4" stroke-opacity="0.8"/>
<polygon points="778.58,293.33 787.8,298.62 787.8,309.26 778.58,303.97" fill="#7A7A7A"/>
<polygon points="797.02,293.33 787.8,298.62 787.8,309.26 797.02,303.97" fill="#5C5C5C"/>
<polygon points="787.8,288.03 797.02,293.33 787.8,298.62 778.58,293.33" fill="#8E8E8E"/>
<polyline points="778.58,303.97 778.58,293.33 787.8,298.62 797.02,293.33" fill="none" stroke="#B89A64" stroke-width="0.4" stroke-opacity="0.8"/>
<line x1="787.8" y1="298.62" x2="787.8" y2="309.26" stroke="#B89A64" stroke-width="0.4" stroke-opacity="0.8"/>
<g transform="translate(809.6 281.85) scale(1 1)" fill="#22B2E7"><ellipse rx="4.5" ry="7.2" transform="rotate(28)"/><path d="M-11.8 16.5Q-11.8 12.8-8.5 12.3L5.5 4.3Q8.5 2.3 10.3 2.9Q11.8 3.6 11.8 6.3L11.8 27Q11.8 28.8 9.3 28.8Q6.8 28.8 6.8 27L6.8 11.3L6.3 11.6L6.3 59.2Q6.3 61.2 3.5 61.2Q0.8 61.2 0.8 59.2L0.8 35L-0.4 35.6L-0.4 63Q-0.4 65-3.5 65Q-6.7 65-6.7 63L-6.7 19.8L-7.4 20.2L-7.4 38.2Q-7.4 40-9.6 40Q-11.8 40-11.8 38.2Z"/></g>
<g transform="translate(772.2 304.65) scale(1 1)" fill="#22B2E7"><ellipse rx="4.5" ry="7.2" transform="rotate(28)"/><path d="M-11.8 16.5Q-11.8 12.8-8.5 12.3L5.5 4.3Q8.5 2.3 10.3 2.9Q11.8 3.6 11.8 6.3L11.8 27Q11.8 28.8 9.3 28.8Q6.8 28.8 6.8 27L6.8 11.3L6.3 11.6L6.3 59.2Q6.3 61.2 3.5 61.2Q0.8 61.2 0.8 59.2L0.8 35L-0.4 35.6L-0.4 63Q-0.4 65-3.5 65Q-6.7 65-6.7 63L-6.7 19.8L-7.4 20.2L-7.4 38.2Q-7.4 40-9.6 40Q-11.8 40-11.8 38.2Z"/></g>
<polygon points="469.8,80.4 548.8,51.9 693.3,135.4 669.5,149 556.9,84.8 556.9,60.1 536.8,71.7" fill="#E60012" style="mix-blend-mode:multiply"/>
<polygon points="536.8,71.7 556.9,60.1 556.9,84.8" fill="#9A000B" style="mix-blend-mode:multiply"/>
<polygon points="669.5,149 693.3,135.4 728.4,188.1 739.4,181.9 737.5,215 734.9,224.4 692.1,208.9 703.8,201.7" fill="#C4000E" style="mix-blend-mode:multiply"/>
<polygon points="446.9,173.5 384.7,150.7 399.3,163.3" fill="#E60012" style="mix-blend-mode:multiply"/>
<polygon points="384.7,150.7 399.3,163.3 285.9,227 268.6,216.2" fill="#E60012" style="mix-blend-mode:multiply"/>
<polygon points="268.6,216.2 285.9,227 258.6,270.6 268.1,276.9 234.3,288.4 230.1,255.1 239,258.7" fill="#C4000E" style="mix-blend-mode:multiply"/>
<polyline points="9.9,85.5 285,85.5 330,114" fill="none" stroke="#F4A93A" stroke-width="1"/>
<polyline points="101.8,326.2 44.4,462.1 408.6,462.1" fill="none" stroke="#F4A93A" stroke-width="1"/>
<polyline points="595.2,326.4 537.8,462.1 953,462.1" fill="none" stroke="#F4A93A" stroke-width="1"/>
<polygon points="261,149 269,149 240.7,178.7" fill="#F39800"/>
<rect x="245" y="114.2" width="125.9" height="36" fill="#F39800"/>
<text x="307.95" y="136.9" class="cmd" textLength="75.3">command</text>
<polygon points="362.1,223 371.8,223 342.6,253.5" fill="#F39800"/>
<rect x="345.9" y="188.4" width="126.4" height="35.9" fill="#F39800"/>
<text x="409.1" y="210.7" class="cmd" textLength="75.3">command</text>
<polygon points="796.9,139.5 805.7,139.5 775.9,169.8" fill="#F39800"/>
<rect x="779.4" y="104.3" width="126.4" height="36.4" fill="#F39800"/>
<text x="842.6" y="126.5" class="cmd" textLength="75.3">command</text>
<polygon points="891,192.5 899.3,192.5 870.1,222.6" fill="#0062B0"/>
<rect x="874" y="157.9" width="126" height="35.6" fill="#0062B0"/>
<text x="937" y="180.8" class="cmd" textLength="75.3">command</text>
<g transform="translate(696.6 5.3) scale(-0.9 0.9)" fill="#F39800"><ellipse rx="4.5" ry="7.2" transform="rotate(28)"/><path d="M-11.8 16.5Q-11.8 12.8-8.5 12.3L5.5 4.3Q8.5 2.3 10.3 2.9Q11.8 3.6 11.8 6.3L11.8 27Q11.8 28.8 9.3 28.8Q6.8 28.8 6.8 27L6.8 11.3L6.3 11.6L6.3 59.2Q6.3 61.2 3.5 61.2Q0.8 61.2 0.8 59.2L0.8 35L-0.4 35.6L-0.4 63Q-0.4 65-3.5 65Q-6.7 65-6.7 63L-6.7 19.8L-7.4 20.2L-7.4 38.2Q-7.4 40-9.6 40Q-11.8 40-11.8 38.2Z"/></g>
<g transform="translate(828.3 5.3) scale(-0.9 0.9)" fill="#22B2E7"><ellipse rx="4.5" ry="7.2" transform="rotate(28)"/><path d="M-11.8 16.5Q-11.8 12.8-8.5 12.3L5.5 4.3Q8.5 2.3 10.3 2.9Q11.8 3.6 11.8 6.3L11.8 27Q11.8 28.8 9.3 28.8Q6.8 28.8 6.8 27L6.8 11.3L6.3 11.6L6.3 59.2Q6.3 61.2 3.5 61.2Q0.8 61.2 0.8 59.2L0.8 35L-0.4 35.6L-0.4 63Q-0.4 65-3.5 65Q-6.7 65-6.7 63L-6.7 19.8L-7.4 20.2L-7.4 38.2Q-7.4 40-9.6 40Q-11.8 40-11.8 38.2Z"/></g>
<text class="tx" x="9.9" y="57" textLength="202.2">We play a role of conductor,</text>
<text class="tx" x="9.9" y="76.7" textLength="273.4">instruction and command of business</text>
<text class="tx" x="63.4" y="453.6" textLength="344.6">We subcontract all lines in customers&#39; premises</text>
<text class="tx" x="557.2" y="453.3" textLength="391.4">We subcontract a part of lines in customers&#39; premises</text>
<text class="lg" x="711.4" y="41.6" textLength="70.9">our staff</text>
<text class="lg" x="843.2" y="41.6" textLength="135.1">our clients&#39; staff</text>
</svg>
</body></html>
